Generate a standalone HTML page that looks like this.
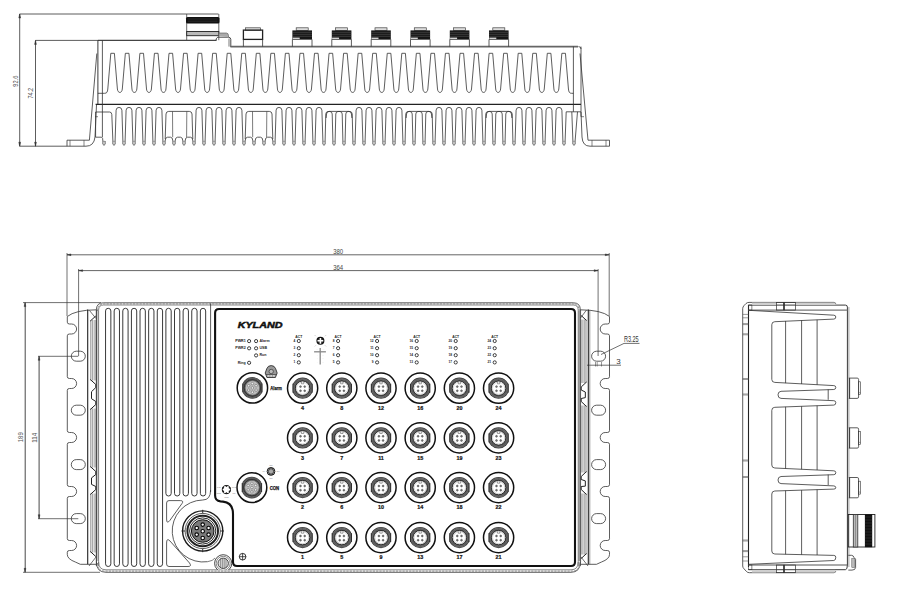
<!DOCTYPE html>
<html><head><meta charset="utf-8"><style>
html,body{margin:0;padding:0;background:#fff;}
svg{display:block;font-family:"Liberation Sans",sans-serif;}
</style></head><body>
<svg width="900" height="592" viewBox="0 0 900 592">
<line x1="19.50" y1="14.00" x2="218.50" y2="14.00" stroke="#333" stroke-width="0.8"/>
<line x1="19.70" y1="14.00" x2="19.70" y2="146.20" stroke="#333" stroke-width="0.8"/>
<line x1="35.50" y1="40.40" x2="98.00" y2="40.40" stroke="#333" stroke-width="0.8"/>
<line x1="35.50" y1="40.40" x2="35.50" y2="146.20" stroke="#333" stroke-width="0.8"/>
<line x1="19.50" y1="146.20" x2="67.00" y2="146.20" stroke="#333" stroke-width="0.8"/>
<path d="M18.8,18 L19.7,14 L20.599999999999998,18 Z" stroke="#333" stroke-width="0.5" fill="#333"/>
<path d="M18.8,142.2 L19.7,146.2 L20.599999999999998,142.2 Z" stroke="#333" stroke-width="0.5" fill="#333"/>
<path d="M34.6,44.4 L35.5,40.4 L36.4,44.4 Z" stroke="#333" stroke-width="0.5" fill="#333"/>
<path d="M34.6,142.2 L35.5,146.2 L36.4,142.2 Z" stroke="#333" stroke-width="0.5" fill="#333"/>
<text x="15.40" y="81.20" font-size="7.6" text-anchor="middle" dominant-baseline="central" font-weight="normal" font-style="normal" fill="#444" transform="rotate(-90 15.40 81.20)" textLength="11" lengthAdjust="spacingAndGlyphs">92.6</text>
<text x="31.00" y="93.20" font-size="7.6" text-anchor="middle" dominant-baseline="central" font-weight="normal" font-style="normal" fill="#444" transform="rotate(-90 31.00 93.20)" textLength="10.7" lengthAdjust="spacingAndGlyphs">74.2</text>
<line x1="98.00" y1="40.40" x2="216.50" y2="40.40" stroke="#444" stroke-width="1.3"/>
<line x1="186.70" y1="14.00" x2="186.70" y2="40.20" stroke="#444" stroke-width="0.8"/>
<line x1="218.80" y1="14.00" x2="218.80" y2="40.20" stroke="#444" stroke-width="0.8"/>
<rect x="186" y="17.1" width="33.5" height="6.5" rx="1.5" fill="#111"/>
<line x1="188.00" y1="19.00" x2="217.50" y2="19.00" stroke="#555" stroke-width="0.35"/>
<line x1="188.00" y1="21.20" x2="217.50" y2="21.20" stroke="#555" stroke-width="0.35"/>
<rect x="186.70" y="31.50" width="32.10" height="4.20" rx="0" stroke="#222" stroke-width="0.9" fill="#bbb"/>
<path d="M216,40.4 Q216,38 217.8,37.2 L228.5,37.2 Q230.8,37.4 230.8,39.5 L230.8,47" stroke="#333" stroke-width="0.9" fill="none"/>
<line x1="229.00" y1="38.60" x2="229.00" y2="46.60" stroke="#555" stroke-width="0.8"/>
<path d="M218.8,36 L218.8,33 L226.5,33 Q228.5,33.3 228.5,35.5 L228.5,37.2" stroke="#555" stroke-width="0.6" fill="#aaa"/>
<line x1="230.40" y1="46.60" x2="578.00" y2="46.60" stroke="#666" stroke-width="1.6"/>
<path d="M578.5,46.6 Q581,46.6 581,49" stroke="#333" stroke-width="0.8" fill="none"/>
<rect x="245.50" y="27.80" width="15.00" height="2.50" rx="0" stroke="#444" stroke-width="0.7" fill="#ddd"/>
<rect x="243.40" y="30.10" width="19.20" height="9.30" rx="0" stroke="#222" stroke-width="1.3" fill="none"/>
<line x1="243.40" y1="39.40" x2="243.40" y2="46.60" stroke="#333" stroke-width="0.8"/>
<line x1="262.60" y1="39.40" x2="262.60" y2="46.60" stroke="#333" stroke-width="0.8"/>
<rect x="296.20" y="27.80" width="12.00" height="2.60" rx="0" stroke="#444" stroke-width="0.7" fill="#ddd"/>
<rect x="292.40" y="30.40" width="19.60" height="9.00" rx="0" stroke="#333" stroke-width="0" fill="#151515"/>
<line x1="292.40" y1="32.30" x2="312.00" y2="32.30" stroke="#777" stroke-width="0.4"/>
<line x1="292.40" y1="34.30" x2="312.00" y2="34.30" stroke="#777" stroke-width="0.4"/>
<line x1="292.40" y1="36.30" x2="312.00" y2="36.30" stroke="#777" stroke-width="0.4"/>
<rect x="292.70" y="37.60" width="7.00" height="1.50" rx="0" stroke="#333" stroke-width="0" fill="#ddd"/>
<line x1="292.40" y1="39.40" x2="292.40" y2="46.60" stroke="#333" stroke-width="0.8"/>
<line x1="312.00" y1="39.40" x2="312.00" y2="46.60" stroke="#333" stroke-width="0.8"/>
<line x1="292.40" y1="39.40" x2="312.00" y2="39.40" stroke="#333" stroke-width="0.6"/>
<rect x="335.60" y="27.80" width="12.00" height="2.60" rx="0" stroke="#444" stroke-width="0.7" fill="#ddd"/>
<rect x="331.80" y="30.40" width="19.60" height="9.00" rx="0" stroke="#333" stroke-width="0" fill="#151515"/>
<line x1="331.80" y1="32.30" x2="351.40" y2="32.30" stroke="#777" stroke-width="0.4"/>
<line x1="331.80" y1="34.30" x2="351.40" y2="34.30" stroke="#777" stroke-width="0.4"/>
<line x1="331.80" y1="36.30" x2="351.40" y2="36.30" stroke="#777" stroke-width="0.4"/>
<rect x="332.10" y="37.60" width="7.00" height="1.50" rx="0" stroke="#333" stroke-width="0" fill="#ddd"/>
<line x1="331.80" y1="39.40" x2="331.80" y2="46.60" stroke="#333" stroke-width="0.8"/>
<line x1="351.40" y1="39.40" x2="351.40" y2="46.60" stroke="#333" stroke-width="0.8"/>
<line x1="331.80" y1="39.40" x2="351.40" y2="39.40" stroke="#333" stroke-width="0.6"/>
<rect x="375.00" y="27.80" width="12.00" height="2.60" rx="0" stroke="#444" stroke-width="0.7" fill="#ddd"/>
<rect x="371.20" y="30.40" width="19.60" height="9.00" rx="0" stroke="#333" stroke-width="0" fill="#151515"/>
<line x1="371.20" y1="32.30" x2="390.80" y2="32.30" stroke="#777" stroke-width="0.4"/>
<line x1="371.20" y1="34.30" x2="390.80" y2="34.30" stroke="#777" stroke-width="0.4"/>
<line x1="371.20" y1="36.30" x2="390.80" y2="36.30" stroke="#777" stroke-width="0.4"/>
<rect x="371.50" y="37.60" width="7.00" height="1.50" rx="0" stroke="#333" stroke-width="0" fill="#ddd"/>
<line x1="371.20" y1="39.40" x2="371.20" y2="46.60" stroke="#333" stroke-width="0.8"/>
<line x1="390.80" y1="39.40" x2="390.80" y2="46.60" stroke="#333" stroke-width="0.8"/>
<line x1="371.20" y1="39.40" x2="390.80" y2="39.40" stroke="#333" stroke-width="0.6"/>
<rect x="414.30" y="27.80" width="12.00" height="2.60" rx="0" stroke="#444" stroke-width="0.7" fill="#ddd"/>
<rect x="410.50" y="30.40" width="19.60" height="9.00" rx="0" stroke="#333" stroke-width="0" fill="#151515"/>
<line x1="410.50" y1="32.30" x2="430.10" y2="32.30" stroke="#777" stroke-width="0.4"/>
<line x1="410.50" y1="34.30" x2="430.10" y2="34.30" stroke="#777" stroke-width="0.4"/>
<line x1="410.50" y1="36.30" x2="430.10" y2="36.30" stroke="#777" stroke-width="0.4"/>
<rect x="410.80" y="37.60" width="7.00" height="1.50" rx="0" stroke="#333" stroke-width="0" fill="#ddd"/>
<line x1="410.50" y1="39.40" x2="410.50" y2="46.60" stroke="#333" stroke-width="0.8"/>
<line x1="430.10" y1="39.40" x2="430.10" y2="46.60" stroke="#333" stroke-width="0.8"/>
<line x1="410.50" y1="39.40" x2="430.10" y2="39.40" stroke="#333" stroke-width="0.6"/>
<rect x="453.60" y="27.80" width="12.00" height="2.60" rx="0" stroke="#444" stroke-width="0.7" fill="#ddd"/>
<rect x="449.80" y="30.40" width="19.60" height="9.00" rx="0" stroke="#333" stroke-width="0" fill="#151515"/>
<line x1="449.80" y1="32.30" x2="469.40" y2="32.30" stroke="#777" stroke-width="0.4"/>
<line x1="449.80" y1="34.30" x2="469.40" y2="34.30" stroke="#777" stroke-width="0.4"/>
<line x1="449.80" y1="36.30" x2="469.40" y2="36.30" stroke="#777" stroke-width="0.4"/>
<rect x="450.10" y="37.60" width="7.00" height="1.50" rx="0" stroke="#333" stroke-width="0" fill="#ddd"/>
<line x1="449.80" y1="39.40" x2="449.80" y2="46.60" stroke="#333" stroke-width="0.8"/>
<line x1="469.40" y1="39.40" x2="469.40" y2="46.60" stroke="#333" stroke-width="0.8"/>
<line x1="449.80" y1="39.40" x2="469.40" y2="39.40" stroke="#333" stroke-width="0.6"/>
<rect x="492.80" y="27.80" width="12.00" height="2.60" rx="0" stroke="#444" stroke-width="0.7" fill="#ddd"/>
<rect x="489.00" y="30.40" width="19.60" height="9.00" rx="0" stroke="#333" stroke-width="0" fill="#151515"/>
<line x1="489.00" y1="32.30" x2="508.60" y2="32.30" stroke="#777" stroke-width="0.4"/>
<line x1="489.00" y1="34.30" x2="508.60" y2="34.30" stroke="#777" stroke-width="0.4"/>
<line x1="489.00" y1="36.30" x2="508.60" y2="36.30" stroke="#777" stroke-width="0.4"/>
<rect x="489.30" y="37.60" width="7.00" height="1.50" rx="0" stroke="#333" stroke-width="0" fill="#ddd"/>
<line x1="489.00" y1="39.40" x2="489.00" y2="46.60" stroke="#333" stroke-width="0.8"/>
<line x1="508.60" y1="39.40" x2="508.60" y2="46.60" stroke="#333" stroke-width="0.8"/>
<line x1="489.00" y1="39.40" x2="508.60" y2="39.40" stroke="#333" stroke-width="0.6"/>
<path d="M97.9,93.3 L104.6,93.3 C107.0,93.3 107.39999999999999,92 107.8,89 L110.8,53.3 L114.39999999999999,53.3 L117.39999999999999,89 C117.8,93.6 121.89999999999999,93.6 122.3,89 L125.35,53.3 L128.95,53.3 L131.95,89 C132.35,93.6 136.45,93.6 136.85,89 L139.89999999999998,53.3 L143.5,53.3 L146.5,89 C146.89999999999998,93.6 151.0,93.6 151.39999999999998,89 L154.45,53.3 L158.05,53.3 L161.05,89 C161.45,93.6 165.55,93.6 165.95,89 L169.0,53.3 L172.60000000000002,53.3 L175.60000000000002,89 C176.0,93.6 180.10000000000002,93.6 180.5,89 L183.54999999999998,53.3 L187.15,53.3 L190.15,89 C190.54999999999998,93.6 194.65,93.6 195.04999999999998,89 L198.1,53.3 L201.70000000000002,53.3 L204.70000000000002,89 C205.1,93.6 209.20000000000002,93.6 209.6,89 L212.64999999999998,53.3 L216.25,53.3 L219.25,89 C219.64999999999998,93.6 223.75,93.6 224.14999999999998,89 L227.2,53.3 L230.8,53.3 L233.8,89 C234.2,93.6 238.3,93.6 238.7,89 L241.75,53.3 L245.35000000000002,53.3 L248.35000000000002,89 C248.75,93.6 252.85000000000002,93.6 253.25,89 L256.3,53.3 L259.90000000000003,53.3 L262.90000000000003,89 C263.3,93.6 267.40000000000003,93.6 267.8,89 L270.84999999999997,53.3 L274.45,53.3 L277.45,89 C277.84999999999997,93.6 281.95,93.6 282.34999999999997,89 L285.40000000000003,53.3 L289.00000000000006,53.3 L292.00000000000006,89 C292.40000000000003,93.6 296.50000000000006,93.6 296.90000000000003,89 L299.95,53.3 L303.55,53.3 L306.55,89 C306.95,93.6 311.05,93.6 311.45,89 L314.5,53.3 L318.1,53.3 L321.1,89 C321.5,93.6 325.6,93.6 326.0,89 L329.05,53.3 L332.65000000000003,53.3 L335.65000000000003,89 C336.05,93.6 340.15000000000003,93.6 340.55,89 L343.59999999999997,53.3 L347.2,53.3 L350.2,89 C350.59999999999997,93.6 354.7,93.6 355.09999999999997,89 L358.15000000000003,53.3 L361.75000000000006,53.3 L364.75000000000006,89 C365.15000000000003,93.6 369.25000000000006,93.6 369.65000000000003,89 L372.7,53.3 L376.3,53.3 L379.3,89 C379.7,93.6 383.8,93.6 384.2,89 L387.24999999999994,53.3 L390.84999999999997,53.3 L393.84999999999997,89 C394.24999999999994,93.6 398.34999999999997,93.6 398.74999999999994,89 L401.8,53.3 L405.40000000000003,53.3 L408.40000000000003,89 C408.8,93.6 412.90000000000003,93.6 413.3,89 L416.34999999999997,53.3 L419.95,53.3 L422.95,89 C423.34999999999997,93.6 427.45,93.6 427.84999999999997,89 L430.90000000000003,53.3 L434.50000000000006,53.3 L437.50000000000006,89 C437.90000000000003,93.6 442.00000000000006,93.6 442.40000000000003,89 L445.45,53.3 L449.05,53.3 L452.05,89 C452.45,93.6 456.55,93.6 456.95,89 L460.00000000000006,53.3 L463.6000000000001,53.3 L466.6000000000001,89 C467.00000000000006,93.6 471.1000000000001,93.6 471.50000000000006,89 L474.55,53.3 L478.15000000000003,53.3 L481.15000000000003,89 C481.55,93.6 485.65000000000003,93.6 486.05,89 L489.09999999999997,53.3 L492.7,53.3 L495.7,89 C496.09999999999997,93.6 500.2,93.6 500.59999999999997,89 L503.65000000000003,53.3 L507.25000000000006,53.3 L510.25000000000006,89 C510.65000000000003,93.6 514.75,93.6 515.1500000000001,89 L518.2,53.3 L521.8,53.3 L524.8,89 C525.2,93.6 529.3,93.6 529.7,89 L532.7500000000001,53.3 L536.35,53.3 L539.35,89 C539.7500000000001,93.6 543.85,93.6 544.2500000000001,89 L547.3000000000001,53.3 L550.9,53.3 L553.9,89 C554.3000000000001,93.6 558.4,93.6 558.8000000000001,89 L561.85,53.3 L565.4499999999999,53.3 L568.4499999999999,89 C568.85,92 569.25,93.3 571.65,93.3 L573.4,93.3" stroke="#333" stroke-width="0.8" fill="none"/>
<line x1="95.60" y1="104.30" x2="581.00" y2="104.30" stroke="#222" stroke-width="1.3"/>
<line x1="97.90" y1="40.40" x2="97.90" y2="104.30" stroke="#222" stroke-width="0.9"/>
<line x1="102.40" y1="40.40" x2="102.40" y2="137.20" stroke="#333" stroke-width="0.8"/>
<line x1="573.40" y1="46.60" x2="573.40" y2="111.80" stroke="#333" stroke-width="0.8"/>
<path d="M96.8,53.5 L89.4,140.2 L67,140.2 L67,146.2 L86,146.2 Q94,146.2 95,137 L96.5,105" stroke="#333" stroke-width="0.8" fill="none"/>
<line x1="70.00" y1="140.20" x2="70.00" y2="146.20" stroke="#333" stroke-width="0.6"/>
<line x1="84.00" y1="140.20" x2="84.00" y2="146.20" stroke="#333" stroke-width="0.6"/>
<path d="M580,53.5 L588,140.2 L609.5,140.2 L609.5,146.2 L590,146.2 Q582.5,146.2 582,137 L581,112" stroke="#333" stroke-width="0.8" fill="none"/>
<line x1="592.00" y1="140.20" x2="592.00" y2="146.20" stroke="#333" stroke-width="0.6"/>
<line x1="606.00" y1="140.20" x2="606.00" y2="146.20" stroke="#333" stroke-width="0.6"/>
<line x1="95.00" y1="116.70" x2="98.00" y2="116.70" stroke="#333" stroke-width="0.6"/>
<line x1="581.00" y1="116.70" x2="584.00" y2="116.70" stroke="#333" stroke-width="0.6"/>
<path d="M112.9,141 L112.9,144.3 Q114,146.4 115.1,144.3 L115.1,141 L116.1,110.2 Q116.3,107.4 119,107.4 Q121.7,107.4 121.9,110.2 L122.9,141 L122.9,144.3 Q124,146.4 125.1,144.3 L125.1,141 L126.1,110.2 Q126.3,107.4 129,107.4 Q131.7,107.4 131.9,110.2 L132.9,141 L132.9,144.3 Q134,146.4 135.1,144.3 L135.1,141 L136.1,110.2 Q136.3,107.4 139,107.4 Q141.7,107.4 141.9,110.2 L142.9,141 L142.9,144.3 Q144,146.4 145.1,144.3 L145.1,141 L146.1,110.2 Q146.3,107.4 149,107.4 Q151.7,107.4 151.9,110.2 L152.9,141 L152.9,144.3 Q154,146.4 155.1,144.3 L155.1,141 L156.1,110.2 Q156.3,107.4 159,107.4 Q161.7,107.4 161.9,110.2 L162.9,141 L162.9,144.3 Q164,146.4 165.1,144.3 L165.1,141 Q165.3,137.2 167.5,137.2 L170.5,137.2 Q172.7,137.2 172.9,141 L172.9,144.3 Q174,146.4 175.1,144.3 L175.1,141 Q175.3,137.2 177.5,137.2 L180.5,137.2 Q182.7,137.2 182.9,141 L182.9,144.3 Q184,146.4 185.1,144.3 L185.1,141 Q185.3,137.2 187.5,137.2 L190.5,137.2 Q192.7,137.2 192.9,141 L192.9,144.3 Q194,146.4 195.1,144.3 L195.1,141 L196.1,110.2 Q196.3,107.4 199,107.4 Q201.7,107.4 201.9,110.2 L202.9,141 L202.9,144.3 Q204,146.4 205.1,144.3 L205.1,141 L206.1,110.2 Q206.3,107.4 209,107.4 Q211.7,107.4 211.9,110.2 L212.9,141 L212.9,144.3 Q214,146.4 215.1,144.3 L215.1,141 L216.1,110.2 Q216.3,107.4 219,107.4 Q221.7,107.4 221.9,110.2 L222.9,141 L222.9,144.3 Q224,146.4 225.1,144.3 L225.1,141 L226.1,110.2 Q226.3,107.4 229,107.4 Q231.7,107.4 231.9,110.2 L232.9,141 L232.9,144.3 Q234,146.4 235.1,144.3 L235.1,141 L236.1,110.2 Q236.3,107.4 239,107.4 Q241.7,107.4 241.9,110.2 L242.9,141 L242.9,144.3 Q244,146.4 245.1,144.3 L245.1,141 Q245.3,137.2 247.5,137.2 L250.5,137.2 Q252.7,137.2 252.9,141 L252.9,144.3 Q254,146.4 255.1,144.3 L255.1,141 Q255.3,137.2 257.5,137.2 L260.5,137.2 Q262.7,137.2 262.9,141 L262.9,144.3 Q264,146.4 265.1,144.3 L265.1,141 Q265.3,137.2 267.5,137.2 L270.5,137.2 Q272.7,137.2 272.9,141 L272.9,144.3 Q274,146.4 275.1,144.3 L275.1,141 L276.1,110.2 Q276.3,107.4 279,107.4 Q281.7,107.4 281.9,110.2 L282.9,141 L282.9,144.3 Q284,146.4 285.1,144.3 L285.1,141 L286.1,110.2 Q286.3,107.4 289,107.4 Q291.7,107.4 291.9,110.2 L292.9,141 L292.9,144.3 Q294,146.4 295.1,144.3 L295.1,141 L296.1,110.2 Q296.3,107.4 299,107.4 Q301.7,107.4 301.9,110.2 L302.9,141 L302.9,144.3 Q304,146.4 305.1,144.3 L305.1,141 L306.1,110.2 Q306.3,107.4 309,107.4 Q311.7,107.4 311.9,110.2 L312.9,141 L312.9,144.3 Q314,146.4 315.1,144.3 L315.1,141 L316.1,110.2 Q316.3,107.4 319,107.4 Q321.7,107.4 321.9,110.2 L322.9,141 L322.9,144.3 Q324,146.4 325.1,144.3 L325.1,141 L325.8,114 Q326,111.6 328,111.5 L330,111.5 Q332,111.6 332.2,114 L332.9,141 L332.9,144.3 Q334,146.4 335.1,144.3 L335.1,141 L335.8,114 Q336,111.6 338,111.5 L340,111.5 Q342,111.6 342.2,114 L342.9,141 L342.9,144.3 Q344,146.4 345.1,144.3 L345.1,141 L345.8,114 Q346,111.6 348,111.5 L350,111.5 Q352,111.6 352.2,114 L352.9,141 L352.9,144.3 Q354,146.4 355.1,144.3 L355.1,141 L356.1,110.2 Q356.3,107.4 359,107.4 Q361.7,107.4 361.9,110.2 L362.9,141 L362.9,144.3 Q364,146.4 365.1,144.3 L365.1,141 L366.1,110.2 Q366.3,107.4 369,107.4 Q371.7,107.4 371.9,110.2 L372.9,141 L372.9,144.3 Q374,146.4 375.1,144.3 L375.1,141 L376.1,110.2 Q376.3,107.4 379,107.4 Q381.7,107.4 381.9,110.2 L382.9,141 L382.9,144.3 Q384,146.4 385.1,144.3 L385.1,141 L386.1,110.2 Q386.3,107.4 389,107.4 Q391.7,107.4 391.9,110.2 L392.9,141 L392.9,144.3 Q394,146.4 395.1,144.3 L395.1,141 L396.1,110.2 Q396.3,107.4 399,107.4 Q401.7,107.4 401.9,110.2 L402.9,141 L402.9,144.3 Q404,146.4 405.1,144.3 L405.1,141 L405.8,114 Q406,111.6 408,111.5 L410,111.5 Q412,111.6 412.2,114 L412.9,141 L412.9,144.3 Q414,146.4 415.1,144.3 L415.1,141 L415.8,114 Q416,111.6 418,111.5 L420,111.5 Q422,111.6 422.2,114 L422.9,141 L422.9,144.3 Q424,146.4 425.1,144.3 L425.1,141 L425.8,114 Q426,111.6 428,111.5 L430,111.5 Q432,111.6 432.2,114 L432.9,141 L432.9,144.3 Q434,146.4 435.1,144.3 L435.1,141 L436.1,110.2 Q436.3,107.4 439,107.4 Q441.7,107.4 441.9,110.2 L442.9,141 L442.9,144.3 Q444,146.4 445.1,144.3 L445.1,141 L446.1,110.2 Q446.3,107.4 449,107.4 Q451.7,107.4 451.9,110.2 L452.9,141 L452.9,144.3 Q454,146.4 455.1,144.3 L455.1,141 L456.1,110.2 Q456.3,107.4 459,107.4 Q461.7,107.4 461.9,110.2 L462.9,141 L462.9,144.3 Q464,146.4 465.1,144.3 L465.1,141 L466.1,110.2 Q466.3,107.4 469,107.4 Q471.7,107.4 471.9,110.2 L472.9,141 L472.9,144.3 Q474,146.4 475.1,144.3 L475.1,141 L476.1,110.2 Q476.3,107.4 479,107.4 Q481.7,107.4 481.9,110.2 L482.9,141 L482.9,144.3 Q484,146.4 485.1,144.3 L485.1,141 L485.8,114 Q486,111.6 488,111.5 L490,111.5 Q492,111.6 492.2,114 L492.9,141 L492.9,144.3 Q494,146.4 495.1,144.3 L495.1,141 L495.8,114 Q496,111.6 498,111.5 L500,111.5 Q502,111.6 502.2,114 L502.9,141 L502.9,144.3 Q504,146.4 505.1,144.3 L505.1,141 L505.8,114 Q506,111.6 508,111.5 L510,111.5 Q512,111.6 512.2,114 L512.9,141 L512.9,144.3 Q514,146.4 515.1,144.3 L515.1,141 L516.1,110.2 Q516.3,107.4 519,107.4 Q521.7,107.4 521.9,110.2 L522.9,141 L522.9,144.3 Q524,146.4 525.1,144.3 L525.1,141 L526.1,110.2 Q526.3,107.4 529,107.4 Q531.7,107.4 531.9,110.2 L532.9,141 L532.9,144.3 Q534,146.4 535.1,144.3 L535.1,141 L536.1,110.2 Q536.3,107.4 539,107.4 Q541.7,107.4 541.9,110.2 L542.9,141 L542.9,144.3 Q544,146.4 545.1,144.3 L545.1,141 L546.1,110.2 Q546.3,107.4 549,107.4 Q551.7,107.4 551.9,110.2 L552.9,141 L552.9,144.3 Q554,146.4 555.1,144.3 L555.1,141 L556.1,110.2 Q556.3,107.4 559,107.4 Q561.7,107.4 561.9,110.2 L562.9,141 L562.9,144.3 Q564,146.4 565.1,144.3 L565.1,141 L566.2,111.8 M571.8,111.8 L572.9,141 L572.9,144.3 Q574,146.4 575.1,144.3 L575.1,141 " stroke="#333" stroke-width="0.8" fill="none"/>
<line x1="102.90" y1="141.30" x2="105.10" y2="141.30" stroke="#666" stroke-width="0.5"/>
<line x1="112.90" y1="141.30" x2="115.10" y2="141.30" stroke="#666" stroke-width="0.5"/>
<line x1="122.90" y1="141.30" x2="125.10" y2="141.30" stroke="#666" stroke-width="0.5"/>
<line x1="132.90" y1="141.30" x2="135.10" y2="141.30" stroke="#666" stroke-width="0.5"/>
<line x1="142.90" y1="141.30" x2="145.10" y2="141.30" stroke="#666" stroke-width="0.5"/>
<line x1="152.90" y1="141.30" x2="155.10" y2="141.30" stroke="#666" stroke-width="0.5"/>
<line x1="162.90" y1="141.30" x2="165.10" y2="141.30" stroke="#666" stroke-width="0.5"/>
<line x1="172.90" y1="141.30" x2="175.10" y2="141.30" stroke="#666" stroke-width="0.5"/>
<line x1="182.90" y1="141.30" x2="185.10" y2="141.30" stroke="#666" stroke-width="0.5"/>
<line x1="192.90" y1="141.30" x2="195.10" y2="141.30" stroke="#666" stroke-width="0.5"/>
<line x1="202.90" y1="141.30" x2="205.10" y2="141.30" stroke="#666" stroke-width="0.5"/>
<line x1="212.90" y1="141.30" x2="215.10" y2="141.30" stroke="#666" stroke-width="0.5"/>
<line x1="222.90" y1="141.30" x2="225.10" y2="141.30" stroke="#666" stroke-width="0.5"/>
<line x1="232.90" y1="141.30" x2="235.10" y2="141.30" stroke="#666" stroke-width="0.5"/>
<line x1="242.90" y1="141.30" x2="245.10" y2="141.30" stroke="#666" stroke-width="0.5"/>
<line x1="252.90" y1="141.30" x2="255.10" y2="141.30" stroke="#666" stroke-width="0.5"/>
<line x1="262.90" y1="141.30" x2="265.10" y2="141.30" stroke="#666" stroke-width="0.5"/>
<line x1="272.90" y1="141.30" x2="275.10" y2="141.30" stroke="#666" stroke-width="0.5"/>
<line x1="282.90" y1="141.30" x2="285.10" y2="141.30" stroke="#666" stroke-width="0.5"/>
<line x1="292.90" y1="141.30" x2="295.10" y2="141.30" stroke="#666" stroke-width="0.5"/>
<line x1="302.90" y1="141.30" x2="305.10" y2="141.30" stroke="#666" stroke-width="0.5"/>
<line x1="312.90" y1="141.30" x2="315.10" y2="141.30" stroke="#666" stroke-width="0.5"/>
<line x1="322.90" y1="141.30" x2="325.10" y2="141.30" stroke="#666" stroke-width="0.5"/>
<line x1="332.90" y1="141.30" x2="335.10" y2="141.30" stroke="#666" stroke-width="0.5"/>
<line x1="342.90" y1="141.30" x2="345.10" y2="141.30" stroke="#666" stroke-width="0.5"/>
<line x1="352.90" y1="141.30" x2="355.10" y2="141.30" stroke="#666" stroke-width="0.5"/>
<line x1="362.90" y1="141.30" x2="365.10" y2="141.30" stroke="#666" stroke-width="0.5"/>
<line x1="372.90" y1="141.30" x2="375.10" y2="141.30" stroke="#666" stroke-width="0.5"/>
<line x1="382.90" y1="141.30" x2="385.10" y2="141.30" stroke="#666" stroke-width="0.5"/>
<line x1="392.90" y1="141.30" x2="395.10" y2="141.30" stroke="#666" stroke-width="0.5"/>
<line x1="402.90" y1="141.30" x2="405.10" y2="141.30" stroke="#666" stroke-width="0.5"/>
<line x1="412.90" y1="141.30" x2="415.10" y2="141.30" stroke="#666" stroke-width="0.5"/>
<line x1="422.90" y1="141.30" x2="425.10" y2="141.30" stroke="#666" stroke-width="0.5"/>
<line x1="432.90" y1="141.30" x2="435.10" y2="141.30" stroke="#666" stroke-width="0.5"/>
<line x1="442.90" y1="141.30" x2="445.10" y2="141.30" stroke="#666" stroke-width="0.5"/>
<line x1="452.90" y1="141.30" x2="455.10" y2="141.30" stroke="#666" stroke-width="0.5"/>
<line x1="462.90" y1="141.30" x2="465.10" y2="141.30" stroke="#666" stroke-width="0.5"/>
<line x1="472.90" y1="141.30" x2="475.10" y2="141.30" stroke="#666" stroke-width="0.5"/>
<line x1="482.90" y1="141.30" x2="485.10" y2="141.30" stroke="#666" stroke-width="0.5"/>
<line x1="492.90" y1="141.30" x2="495.10" y2="141.30" stroke="#666" stroke-width="0.5"/>
<line x1="502.90" y1="141.30" x2="505.10" y2="141.30" stroke="#666" stroke-width="0.5"/>
<line x1="512.90" y1="141.30" x2="515.10" y2="141.30" stroke="#666" stroke-width="0.5"/>
<line x1="522.90" y1="141.30" x2="525.10" y2="141.30" stroke="#666" stroke-width="0.5"/>
<line x1="532.90" y1="141.30" x2="535.10" y2="141.30" stroke="#666" stroke-width="0.5"/>
<line x1="542.90" y1="141.30" x2="545.10" y2="141.30" stroke="#666" stroke-width="0.5"/>
<line x1="552.90" y1="141.30" x2="555.10" y2="141.30" stroke="#666" stroke-width="0.5"/>
<line x1="562.90" y1="141.30" x2="565.10" y2="141.30" stroke="#666" stroke-width="0.5"/>
<line x1="572.90" y1="141.30" x2="575.10" y2="141.30" stroke="#666" stroke-width="0.5"/>
<path d="M102.9,141 L102.9,144.3 Q104,146.4 105.1,144.3 L105.1,141" stroke="#333" stroke-width="0.8" fill="none"/>
<path d="M165.2,139 L166.0,114 Q166.2,111.4 168.7,111.4 L189.3,111.4 Q191.8,111.4 192.0,114 L192.8,139" stroke="#333" stroke-width="0.8" fill="none"/>
<line x1="172.50" y1="111.40" x2="172.70" y2="137.20" stroke="#444" stroke-width="0.7"/>
<line x1="186.80" y1="111.40" x2="186.60" y2="137.20" stroke="#444" stroke-width="0.7"/>
<path d="M245.2,139 L246.0,114 Q246.2,111.4 248.7,111.4 L269.3,111.4 Q271.8,111.4 272.0,114 L272.8,139" stroke="#333" stroke-width="0.8" fill="none"/>
<line x1="252.50" y1="111.40" x2="252.70" y2="137.20" stroke="#444" stroke-width="0.7"/>
<line x1="266.80" y1="111.40" x2="266.60" y2="137.20" stroke="#444" stroke-width="0.7"/>
<path d="M326.09999999999997,118 L326.5,114 Q326.8,111.4 329.2,111.4 L348.8,111.4 Q351.2,111.4 351.5,114 L351.90000000000003,118" stroke="#333" stroke-width="0.8" fill="none"/>
<path d="M406.09999999999997,118 L406.5,114 Q406.8,111.4 409.2,111.4 L428.8,111.4 Q431.2,111.4 431.5,114 L431.90000000000003,118" stroke="#333" stroke-width="0.8" fill="none"/>
<path d="M486.09999999999997,118 L486.5,114 Q486.8,111.4 489.2,111.4 L508.79999999999995,111.4 Q511.19999999999993,111.4 511.49999999999994,114 L511.9,118" stroke="#333" stroke-width="0.8" fill="none"/>
<path d="M95.6,137.2 L95.6,112 L109.6,112 Q111.6,112 111.8,114.5 L112.9,141" stroke="#333" stroke-width="0.8" fill="none"/>
<path d="M95.6,137.2 L101.5,137.2 Q102.9,137.5 102.9,141" stroke="#333" stroke-width="0.8" fill="none"/>
<path d="M566.2,111.8 L581,111.8" stroke="#333" stroke-width="0.8" fill="none"/>
<path d="M575.1,141 L577.5,111.8" stroke="#333" stroke-width="0.8" fill="none"/>
<line x1="581.00" y1="46.60" x2="581.00" y2="116.70" stroke="#333" stroke-width="0.8"/>
<line x1="67.00" y1="254.80" x2="609.20" y2="254.80" stroke="#555" stroke-width="0.9"/>
<line x1="78.60" y1="270.60" x2="598.10" y2="270.60" stroke="#555" stroke-width="0.9"/>
<line x1="67.00" y1="253.00" x2="67.00" y2="316.00" stroke="#333" stroke-width="0.7"/>
<line x1="609.20" y1="253.00" x2="609.20" y2="316.00" stroke="#333" stroke-width="0.7"/>
<line x1="78.60" y1="269.00" x2="78.60" y2="356.00" stroke="#333" stroke-width="0.7"/>
<line x1="598.10" y1="269.00" x2="598.10" y2="356.00" stroke="#333" stroke-width="0.7"/>
<path d="M71,253.9 L67,254.8 L71,255.70000000000002 Z" stroke="#333" stroke-width="0.4" fill="#333"/>
<path d="M605.2,253.9 L609.2,254.8 L605.2,255.70000000000002 Z" stroke="#333" stroke-width="0.4" fill="#333"/>
<path d="M82.6,269.70000000000005 L78.6,270.6 L82.6,271.5 Z" stroke="#333" stroke-width="0.4" fill="#333"/>
<path d="M594.1,269.70000000000005 L598.1,270.6 L594.1,271.5 Z" stroke="#333" stroke-width="0.4" fill="#333"/>
<text x="338.20" y="251.80" font-size="8" text-anchor="middle" dominant-baseline="central" font-weight="normal" font-style="normal" fill="#444" textLength="10" lengthAdjust="spacingAndGlyphs">380</text>
<text x="338.20" y="267.60" font-size="8" text-anchor="middle" dominant-baseline="central" font-weight="normal" font-style="normal" fill="#444" textLength="10" lengthAdjust="spacingAndGlyphs">364</text>
<line x1="23.00" y1="302.60" x2="101.00" y2="302.60" stroke="#333" stroke-width="0.7"/>
<line x1="23.00" y1="572.30" x2="100.00" y2="572.30" stroke="#333" stroke-width="0.7"/>
<line x1="25.20" y1="302.60" x2="25.20" y2="572.30" stroke="#333" stroke-width="0.9"/>
<line x1="38.00" y1="356.30" x2="78.30" y2="356.30" stroke="#333" stroke-width="0.7"/>
<line x1="38.00" y1="518.70" x2="78.30" y2="518.70" stroke="#333" stroke-width="0.7"/>
<line x1="39.10" y1="356.30" x2="39.10" y2="518.70" stroke="#333" stroke-width="0.9"/>
<path d="M24.1,306.6 L25,302.6 L25.9,306.6 Z" stroke="#333" stroke-width="0.4" fill="#333"/>
<path d="M24.1,568.3 L25,572.3 L25.9,568.3 Z" stroke="#333" stroke-width="0.4" fill="#333"/>
<path d="M38.2,360.3 L39.1,356.3 L40.0,360.3 Z" stroke="#333" stroke-width="0.4" fill="#333"/>
<path d="M38.2,514.7 L39.1,518.7 L40.0,514.7 Z" stroke="#333" stroke-width="0.4" fill="#333"/>
<text x="20.60" y="437.20" font-size="7.4" text-anchor="middle" dominant-baseline="central" font-weight="normal" font-style="normal" fill="#555" transform="rotate(-90 20.60 437.20)" textLength="10" lengthAdjust="spacingAndGlyphs">189</text>
<text x="34.80" y="437.80" font-size="7.4" text-anchor="middle" dominant-baseline="central" font-weight="normal" font-style="normal" fill="#555" transform="rotate(-90 34.80 437.80)" textLength="10" lengthAdjust="spacingAndGlyphs">114</text>
<text x="631.30" y="339.80" font-size="8.2" text-anchor="middle" dominant-baseline="central" font-weight="normal" font-style="normal" fill="#333" textLength="14.8" lengthAdjust="spacingAndGlyphs">R3.25</text>
<line x1="624.00" y1="343.40" x2="639.50" y2="343.40" stroke="#333" stroke-width="0.7"/>
<line x1="624.00" y1="343.40" x2="601.00" y2="354.50" stroke="#333" stroke-width="0.7"/>
<text x="618.40" y="361.30" font-size="8" text-anchor="middle" dominant-baseline="central" font-weight="normal" font-style="normal" fill="#333">3</text>
<line x1="587.00" y1="365.20" x2="621.00" y2="365.20" stroke="#333" stroke-width="0.7"/>
<line x1="595.50" y1="362.00" x2="595.50" y2="366.50" stroke="#333" stroke-width="0.5"/>
<line x1="597.20" y1="362.00" x2="597.20" y2="366.50" stroke="#333" stroke-width="0.5"/>
<line x1="601.50" y1="362.00" x2="601.50" y2="366.50" stroke="#333" stroke-width="0.5"/>
<path d="M96.4,309.8 Q75.3,310 67.3,316.5 L67.3,322.2 Q67.3,324 69.5,324 L71.6,324 A5,5 0 0 1 71.6,334 L69.5,334 Q67.3,334 67.3,335.8 L67.3,376.7 Q67.3,378.5 69.5,378.5 L71.6,378.5 A5,5 0 0 1 71.6,388.5 L69.5,388.5 Q67.3,388.5 67.3,390.3 L67.3,430.7 Q67.3,432.5 69.5,432.5 L71.6,432.5 A5,5 0 0 1 71.6,442.5 L69.5,442.5 Q67.3,442.5 67.3,444.3 L67.3,484.7 Q67.3,486.5 69.5,486.5 L71.6,486.5 A5,5 0 0 1 71.6,496.5 L69.5,496.5 Q67.3,496.5 67.3,498.3 L67.3,538.7 Q67.3,540.5 69.5,540.5 L71.6,540.5 A5,5 0 0 1 71.6,550.5 L69.5,550.5 Q67.3,550.5 67.3,552.3 L67.3,554.5 Q67.3,559 75.3,562 L80.3,564.3 L96.4,564.3" stroke="#333" stroke-width="0.8" fill="none"/>
<path d="M580.3,309.8 Q601.5,310 609.5,316.5 L609.5,322.2 Q609.5,324 607.3,324 L605.2,324 A5,5 0 0 0 605.2,334 L607.3,334 Q609.5,334 609.5,335.8 L609.5,376.7 Q609.5,378.5 607.3,378.5 L605.2,378.5 A5,5 0 0 0 605.2,388.5 L607.3,388.5 Q609.5,388.5 609.5,390.3 L609.5,430.7 Q609.5,432.5 607.3,432.5 L605.2,432.5 A5,5 0 0 0 605.2,442.5 L607.3,442.5 Q609.5,442.5 609.5,444.3 L609.5,484.7 Q609.5,486.5 607.3,486.5 L605.2,486.5 A5,5 0 0 0 605.2,496.5 L607.3,496.5 Q609.5,496.5 609.5,498.3 L609.5,538.7 Q609.5,540.5 607.3,540.5 L605.2,540.5 A5,5 0 0 0 605.2,550.5 L607.3,550.5 Q609.5,550.5 609.5,552.3 L609.5,554.5 Q609.5,559 601.5,562 L596.5,564.3 L580.3,564.3" stroke="#333" stroke-width="0.8" fill="none"/>
<rect x="71.30" y="351.20" width="14.00" height="10.00" rx="5" stroke="#333" stroke-width="0.8" fill="none"/>
<rect x="591.60" y="351.20" width="14.00" height="10.00" rx="5" stroke="#333" stroke-width="0.8" fill="none"/>
<rect x="71.30" y="405.20" width="14.00" height="10.00" rx="5" stroke="#333" stroke-width="0.8" fill="none"/>
<rect x="591.60" y="405.20" width="14.00" height="10.00" rx="5" stroke="#333" stroke-width="0.8" fill="none"/>
<rect x="71.30" y="459.60" width="14.00" height="10.00" rx="5" stroke="#333" stroke-width="0.8" fill="none"/>
<rect x="591.60" y="459.60" width="14.00" height="10.00" rx="5" stroke="#333" stroke-width="0.8" fill="none"/>
<rect x="71.30" y="513.60" width="14.00" height="10.00" rx="5" stroke="#333" stroke-width="0.8" fill="none"/>
<rect x="591.60" y="513.60" width="14.00" height="10.00" rx="5" stroke="#333" stroke-width="0.8" fill="none"/>
<line x1="87.70" y1="309.50" x2="87.70" y2="564.30" stroke="#222" stroke-width="1.1"/>
<line x1="96.40" y1="310.00" x2="96.40" y2="562.00" stroke="#444" stroke-width="0.7"/>
<line x1="97.90" y1="311.00" x2="97.90" y2="561.00" stroke="#666" stroke-width="0.6"/>
<line x1="90.85" y1="320.00" x2="90.85" y2="380.50" stroke="#555" stroke-width="0.7"/>
<line x1="92.77" y1="320.00" x2="92.77" y2="380.50" stroke="#555" stroke-width="0.7"/>
<line x1="94.97" y1="320.00" x2="94.97" y2="380.50" stroke="#555" stroke-width="0.7"/>
<path d="M90.3,321 L95.8,316" stroke="#222" stroke-width="1.0" fill="none"/>
<path d="M90.3,379.5 L95.8,384.5" stroke="#222" stroke-width="1.0" fill="none"/>
<line x1="90.85" y1="408.50" x2="90.85" y2="467.50" stroke="#555" stroke-width="0.7"/>
<line x1="92.77" y1="408.50" x2="92.77" y2="467.50" stroke="#555" stroke-width="0.7"/>
<line x1="94.97" y1="408.50" x2="94.97" y2="467.50" stroke="#555" stroke-width="0.7"/>
<path d="M90.3,409.5 L95.8,404.5" stroke="#222" stroke-width="1.0" fill="none"/>
<path d="M90.3,466.5 L95.8,471.5" stroke="#222" stroke-width="1.0" fill="none"/>
<line x1="90.85" y1="493.50" x2="90.85" y2="552.50" stroke="#555" stroke-width="0.7"/>
<line x1="92.77" y1="493.50" x2="92.77" y2="552.50" stroke="#555" stroke-width="0.7"/>
<line x1="94.97" y1="493.50" x2="94.97" y2="552.50" stroke="#555" stroke-width="0.7"/>
<path d="M90.3,494.5 L95.8,489.5" stroke="#222" stroke-width="1.0" fill="none"/>
<path d="M90.3,551.5 L95.8,556.5" stroke="#222" stroke-width="1.0" fill="none"/>
<path d="M95.8,384.5 L95.8,387.5 L91.50999999999999,391.7 L91.50999999999999,398.7 L95.8,401.5 L95.8,404.5" stroke="#222" stroke-width="1.0" fill="none"/>
<path d="M95.8,471.5 L95.8,474.5 L91.50999999999999,477.9 L91.50999999999999,484.4 L95.8,486.5 L95.8,489.5" stroke="#222" stroke-width="1.0" fill="none"/>
<path d="M89.5,310.5 L96,318.5" stroke="#333" stroke-width="0.7" fill="none"/>
<path d="M89,566 L96,557" stroke="#333" stroke-width="0.7" fill="none"/>
<line x1="588.30" y1="309.50" x2="588.30" y2="564.30" stroke="#222" stroke-width="1.1"/>
<line x1="579.10" y1="311.00" x2="579.10" y2="561.00" stroke="#444" stroke-width="0.7"/>
<line x1="580.60" y1="310.00" x2="580.60" y2="562.00" stroke="#666" stroke-width="0.6"/>
<line x1="585.97" y1="319.50" x2="585.97" y2="383.00" stroke="#555" stroke-width="0.7"/>
<line x1="584.12" y1="319.50" x2="584.12" y2="383.00" stroke="#555" stroke-width="0.7"/>
<line x1="582.00" y1="319.50" x2="582.00" y2="383.00" stroke="#555" stroke-width="0.7"/>
<path d="M586.5,320.5 L581.2,315.5" stroke="#222" stroke-width="1.0" fill="none"/>
<path d="M586.5,382 L581.2,387" stroke="#222" stroke-width="1.0" fill="none"/>
<line x1="585.97" y1="405.50" x2="585.97" y2="472.50" stroke="#555" stroke-width="0.7"/>
<line x1="584.12" y1="405.50" x2="584.12" y2="472.50" stroke="#555" stroke-width="0.7"/>
<line x1="582.00" y1="405.50" x2="582.00" y2="472.50" stroke="#555" stroke-width="0.7"/>
<path d="M586.5,406.5 L581.2,401.5" stroke="#222" stroke-width="1.0" fill="none"/>
<path d="M586.5,471.5 L581.2,476.5" stroke="#222" stroke-width="1.0" fill="none"/>
<line x1="585.97" y1="493.50" x2="585.97" y2="554.50" stroke="#555" stroke-width="0.7"/>
<line x1="584.12" y1="493.50" x2="584.12" y2="554.50" stroke="#555" stroke-width="0.7"/>
<line x1="582.00" y1="493.50" x2="582.00" y2="554.50" stroke="#555" stroke-width="0.7"/>
<path d="M586.5,494.5 L581.2,489.5" stroke="#222" stroke-width="1.0" fill="none"/>
<path d="M586.5,553.5 L581.2,558.5" stroke="#222" stroke-width="1.0" fill="none"/>
<path d="M581.2,387 L581.2,390 L585.3340000000001,392.0 L585.3340000000001,397.625 L581.2,398.5 L581.2,401.5" stroke="#222" stroke-width="1.0" fill="none"/>
<path d="M581.2,476.5 L581.2,479.5 L585.3340000000001,480.9 L585.3340000000001,486.15 L581.2,486.5 L581.2,489.5" stroke="#222" stroke-width="1.0" fill="none"/>
<path d="M580.5,318 L586.5,310" stroke="#333" stroke-width="0.7" fill="none"/>
<line x1="589.80" y1="310.00" x2="589.80" y2="564.30" stroke="#555" stroke-width="0.6"/>
<path d="M588,566 L581,557" stroke="#333" stroke-width="0.7" fill="none"/>
<path d="M96.4,566 L96.4,309.8 Q96.4,302.8 103.4,302.8 L573.3,302.8 Q580.3,302.8 580.3,309.8 L580.3,566" stroke="#333" stroke-width="0.8" fill="none"/>
<path d="M98.6,566 L98.6,310 Q98.6,305 103.6,305 L573.2,305 Q578.2,305 578.2,310 L578.2,566" stroke="#555" stroke-width="0.7" fill="none"/>
<path d="M97.5,311 Q97.5,303.9 104.5,303.9 L572.3,303.9 Q579.2,303.9 579.2,311" stroke="#888" stroke-width="1" fill="none" stroke-dasharray="2.2,1.1"/>
<path d="M96.4,562 Q96.4,572.3 106,572.3 L571,572.3 Q580.3,572.3 580.3,562" stroke="#333" stroke-width="0.8" fill="none"/>
<path d="M98.6,562 Q98.6,569.8 106,569.8 L571,569.8 Q578.2,569.8 578.2,562" stroke="#555" stroke-width="0.7" fill="none"/>
<path d="M97.5,563 Q97.5,571.1 104.5,571.1 L572.3,571.1 Q579.2,571.1 579.2,563" stroke="#888" stroke-width="1" fill="none" stroke-dasharray="2.2,1.1"/>
<rect x="105.55" y="308.30" width="5.30" height="258.20" rx="2.65" stroke="#3a3a3a" stroke-width="1.0" fill="none"/>
<rect x="114.17" y="308.30" width="5.30" height="258.20" rx="2.65" stroke="#3a3a3a" stroke-width="1.0" fill="none"/>
<rect x="122.79" y="308.30" width="5.30" height="258.20" rx="2.65" stroke="#3a3a3a" stroke-width="1.0" fill="none"/>
<rect x="131.41" y="308.30" width="5.30" height="258.20" rx="2.65" stroke="#3a3a3a" stroke-width="1.0" fill="none"/>
<rect x="140.03" y="308.30" width="5.30" height="258.20" rx="2.65" stroke="#3a3a3a" stroke-width="1.0" fill="none"/>
<rect x="148.65" y="308.30" width="5.30" height="258.20" rx="2.65" stroke="#3a3a3a" stroke-width="1.0" fill="none"/>
<rect x="157.27" y="308.30" width="5.30" height="258.20" rx="2.65" stroke="#3a3a3a" stroke-width="1.0" fill="none"/>
<rect x="165.89" y="308.30" width="5.30" height="187.70" rx="2.65" stroke="#3a3a3a" stroke-width="1.0" fill="none"/>
<rect x="174.51" y="308.30" width="5.30" height="187.70" rx="2.65" stroke="#3a3a3a" stroke-width="1.0" fill="none"/>
<rect x="183.13" y="308.30" width="5.30" height="187.70" rx="2.65" stroke="#3a3a3a" stroke-width="1.0" fill="none"/>
<rect x="191.75" y="308.30" width="5.30" height="187.70" rx="2.65" stroke="#3a3a3a" stroke-width="1.0" fill="none"/>
<rect x="200.37" y="308.30" width="5.30" height="187.70" rx="2.65" stroke="#3a3a3a" stroke-width="1.0" fill="none"/>
<line x1="210.60" y1="303.50" x2="210.60" y2="492.00" stroke="#333" stroke-width="0.8"/>
<path d="M169,500.6 L180.5,500.6 Q184,500.8 182,503.5 L169.8,520.5 Q166.6,524.5 166.6,519 L166.6,503 Q166.6,500.6 169,500.6 Z" stroke="#333" stroke-width="0.8" fill="none"/>
<path d="M166.6,543 Q166.6,537.5 170,541 L189.5,563 Q192,566.5 188,566.5 L169,566.5 Q166.6,566.5 166.6,564 Z" stroke="#333" stroke-width="0.8" fill="none"/>
<path d="M210.6,490 Q210.6,500 202.7,500 A31,31 0 1 0 207.5,561.7" stroke="#333" stroke-width="0.8" fill="none"/>
<path d="M207.5,561.7 Q213,561 215,558" stroke="#444" stroke-width="0.7" fill="none"/>
<circle cx="202.70" cy="531.00" r="20.10" stroke="#1a1a1a" stroke-width="1.4" fill="none"/>
<circle cx="202.70" cy="531.00" r="17.60" stroke="#333" stroke-width="0.8" fill="none"/>
<circle cx="202.70" cy="531.00" r="15.30" stroke="#222" stroke-width="2.0" fill="none"/>
<circle cx="202.70" cy="531.00" r="13.10" stroke="#111" stroke-width="0.9" fill="#fff"/>
<circle cx="202.70" cy="531.00" r="11.30" stroke="#111" stroke-width="1.0" fill="#7a7a7a"/>
<line x1="220.30" y1="531.00" x2="223.90" y2="531.00" stroke="#222" stroke-width="0.9"/>
<line x1="202.70" y1="548.60" x2="202.70" y2="552.20" stroke="#222" stroke-width="0.9"/>
<line x1="185.10" y1="531.00" x2="181.50" y2="531.00" stroke="#222" stroke-width="0.9"/>
<line x1="202.70" y1="513.40" x2="202.70" y2="509.80" stroke="#222" stroke-width="0.9"/>
<circle cx="202.70" cy="531.30" r="1.75" stroke="#000" stroke-width="1.1" fill="#fff"/>
<circle cx="202.70" cy="524.60" r="1.75" stroke="#000" stroke-width="1.1" fill="#fff"/>
<circle cx="196.70" cy="528.00" r="1.75" stroke="#000" stroke-width="1.1" fill="#fff"/>
<circle cx="208.60" cy="528.00" r="1.75" stroke="#000" stroke-width="1.1" fill="#fff"/>
<circle cx="196.70" cy="534.60" r="1.75" stroke="#000" stroke-width="1.1" fill="#fff"/>
<circle cx="208.60" cy="534.60" r="1.75" stroke="#000" stroke-width="1.1" fill="#fff"/>
<circle cx="202.70" cy="538.00" r="1.75" stroke="#000" stroke-width="1.1" fill="#fff"/>
<path d="M215.1,313 Q215.1,309 219.1,309 L571,309 Q575,309 575,313 L575,562 Q575,566 571,566 L237,566 Q233,566 233,562 L233,514 Q233,502.5 223,501.6 L220.5,501.4 Q215.1,500.8 215.1,495.5 Z" stroke="#111" stroke-width="2.1" fill="none"/>
<defs><clipPath id="bclip"><rect x="200" y="540" width="50" height="30"/></clipPath></defs>
<g clip-path="url(#bclip)">
<circle cx="223.20" cy="563.30" r="8.60" stroke="#333" stroke-width="0.9" fill="#fff"/>
<circle cx="223.20" cy="563.30" r="7.00" stroke="#555" stroke-width="0.7" fill="none"/>
<circle cx="223.20" cy="563.30" r="5.20" stroke="#333" stroke-width="0.9" fill="#ddd"/>
<line x1="220.60" y1="558.50" x2="220.60" y2="568.00" stroke="#444" stroke-width="0.5"/>
<line x1="222.40" y1="558.50" x2="222.40" y2="568.00" stroke="#444" stroke-width="0.5"/>
<line x1="224.20" y1="558.50" x2="224.20" y2="568.00" stroke="#444" stroke-width="0.5"/>
<line x1="226.00" y1="558.50" x2="226.00" y2="568.00" stroke="#444" stroke-width="0.5"/>
</g>
<circle cx="242.60" cy="556.70" r="3.30" stroke="#222" stroke-width="0.9" fill="none"/>
<line x1="239.10" y1="556.70" x2="246.10" y2="556.70" stroke="#222" stroke-width="0.8"/>
<line x1="242.60" y1="553.20" x2="242.60" y2="560.20" stroke="#222" stroke-width="0.8"/>
<text x="260.10" y="324.00" font-size="9.9" text-anchor="middle" dominant-baseline="central" font-weight="bold" font-style="italic" fill="#111" stroke="#111" stroke-width="0.55" textLength="44.8" lengthAdjust="spacingAndGlyphs">KYLAND</text>
<text x="245.70" y="341.10" font-size="3.6" text-anchor="end" dominant-baseline="central" font-weight="bold" font-style="normal" fill="#111">PWR1</text>
<text x="245.70" y="348.30" font-size="3.6" text-anchor="end" dominant-baseline="central" font-weight="bold" font-style="normal" fill="#222">PWR2</text>
<text x="245.70" y="362.80" font-size="3.6" text-anchor="end" dominant-baseline="central" font-weight="bold" font-style="normal" fill="#222">Ring</text>
<circle cx="249.10" cy="341.10" r="1.60" stroke="#111" stroke-width="0.8" fill="none"/>
<circle cx="249.10" cy="348.30" r="1.60" stroke="#111" stroke-width="0.8" fill="none"/>
<circle cx="249.10" cy="362.80" r="1.60" stroke="#111" stroke-width="0.8" fill="none"/>
<circle cx="256.10" cy="341.10" r="1.60" stroke="#111" stroke-width="0.8" fill="none"/>
<text x="259.40" y="341.10" font-size="3.6" text-anchor="start" dominant-baseline="central" font-weight="bold" font-style="normal" fill="#222">Alarm</text>
<circle cx="256.10" cy="348.30" r="1.60" stroke="#111" stroke-width="0.8" fill="none"/>
<text x="259.40" y="348.30" font-size="3.6" text-anchor="start" dominant-baseline="central" font-weight="bold" font-style="normal" fill="#222">USB</text>
<circle cx="256.10" cy="355.40" r="1.60" stroke="#111" stroke-width="0.8" fill="none"/>
<text x="259.40" y="355.40" font-size="3.6" text-anchor="start" dominant-baseline="central" font-weight="bold" font-style="normal" fill="#222">Run</text>
<text x="298.80" y="336.60" font-size="3.4" text-anchor="middle" dominant-baseline="central" font-weight="bold" font-style="normal" fill="#222">ACT</text>
<circle cx="298.80" cy="341.00" r="1.60" stroke="#111" stroke-width="0.8" fill="none"/>
<text x="295.20" y="341.00" font-size="3.2" text-anchor="end" dominant-baseline="central" font-weight="bold" font-style="normal" fill="#222">4</text>
<circle cx="298.80" cy="348.20" r="1.60" stroke="#111" stroke-width="0.8" fill="none"/>
<text x="295.20" y="348.20" font-size="3.2" text-anchor="end" dominant-baseline="central" font-weight="bold" font-style="normal" fill="#222">3</text>
<circle cx="298.80" cy="355.20" r="1.60" stroke="#111" stroke-width="0.8" fill="none"/>
<text x="295.20" y="355.20" font-size="3.2" text-anchor="end" dominant-baseline="central" font-weight="bold" font-style="normal" fill="#222">2</text>
<circle cx="298.80" cy="362.40" r="1.60" stroke="#111" stroke-width="0.8" fill="none"/>
<text x="295.20" y="362.40" font-size="3.2" text-anchor="end" dominant-baseline="central" font-weight="bold" font-style="normal" fill="#222">1</text>
<text x="338.10" y="336.60" font-size="3.4" text-anchor="middle" dominant-baseline="central" font-weight="bold" font-style="normal" fill="#222">ACT</text>
<circle cx="338.10" cy="341.00" r="1.60" stroke="#111" stroke-width="0.8" fill="none"/>
<text x="334.50" y="341.00" font-size="3.2" text-anchor="end" dominant-baseline="central" font-weight="bold" font-style="normal" fill="#222">8</text>
<circle cx="338.10" cy="348.20" r="1.60" stroke="#111" stroke-width="0.8" fill="none"/>
<text x="334.50" y="348.20" font-size="3.2" text-anchor="end" dominant-baseline="central" font-weight="bold" font-style="normal" fill="#222">7</text>
<circle cx="338.10" cy="355.20" r="1.60" stroke="#111" stroke-width="0.8" fill="none"/>
<text x="334.50" y="355.20" font-size="3.2" text-anchor="end" dominant-baseline="central" font-weight="bold" font-style="normal" fill="#222">6</text>
<circle cx="338.10" cy="362.40" r="1.60" stroke="#111" stroke-width="0.8" fill="none"/>
<text x="334.50" y="362.40" font-size="3.2" text-anchor="end" dominant-baseline="central" font-weight="bold" font-style="normal" fill="#222">5</text>
<text x="377.10" y="336.60" font-size="3.4" text-anchor="middle" dominant-baseline="central" font-weight="bold" font-style="normal" fill="#222">ACT</text>
<circle cx="377.10" cy="341.00" r="1.60" stroke="#111" stroke-width="0.8" fill="none"/>
<text x="373.50" y="341.00" font-size="3.2" text-anchor="end" dominant-baseline="central" font-weight="bold" font-style="normal" fill="#222">12</text>
<circle cx="377.10" cy="348.20" r="1.60" stroke="#111" stroke-width="0.8" fill="none"/>
<text x="373.50" y="348.20" font-size="3.2" text-anchor="end" dominant-baseline="central" font-weight="bold" font-style="normal" fill="#222">11</text>
<circle cx="377.10" cy="355.20" r="1.60" stroke="#111" stroke-width="0.8" fill="none"/>
<text x="373.50" y="355.20" font-size="3.2" text-anchor="end" dominant-baseline="central" font-weight="bold" font-style="normal" fill="#222">10</text>
<circle cx="377.10" cy="362.40" r="1.60" stroke="#111" stroke-width="0.8" fill="none"/>
<text x="373.50" y="362.40" font-size="3.2" text-anchor="end" dominant-baseline="central" font-weight="bold" font-style="normal" fill="#222">9</text>
<text x="416.70" y="336.60" font-size="3.4" text-anchor="middle" dominant-baseline="central" font-weight="bold" font-style="normal" fill="#222">ACT</text>
<circle cx="416.70" cy="341.00" r="1.60" stroke="#111" stroke-width="0.8" fill="none"/>
<text x="413.10" y="341.00" font-size="3.2" text-anchor="end" dominant-baseline="central" font-weight="bold" font-style="normal" fill="#222">16</text>
<circle cx="416.70" cy="348.20" r="1.60" stroke="#111" stroke-width="0.8" fill="none"/>
<text x="413.10" y="348.20" font-size="3.2" text-anchor="end" dominant-baseline="central" font-weight="bold" font-style="normal" fill="#222">15</text>
<circle cx="416.70" cy="355.20" r="1.60" stroke="#111" stroke-width="0.8" fill="none"/>
<text x="413.10" y="355.20" font-size="3.2" text-anchor="end" dominant-baseline="central" font-weight="bold" font-style="normal" fill="#222">14</text>
<circle cx="416.70" cy="362.40" r="1.60" stroke="#111" stroke-width="0.8" fill="none"/>
<text x="413.10" y="362.40" font-size="3.2" text-anchor="end" dominant-baseline="central" font-weight="bold" font-style="normal" fill="#222">13</text>
<text x="455.70" y="336.60" font-size="3.4" text-anchor="middle" dominant-baseline="central" font-weight="bold" font-style="normal" fill="#222">ACT</text>
<circle cx="455.70" cy="341.00" r="1.60" stroke="#111" stroke-width="0.8" fill="none"/>
<text x="452.10" y="341.00" font-size="3.2" text-anchor="end" dominant-baseline="central" font-weight="bold" font-style="normal" fill="#222">20</text>
<circle cx="455.70" cy="348.20" r="1.60" stroke="#111" stroke-width="0.8" fill="none"/>
<text x="452.10" y="348.20" font-size="3.2" text-anchor="end" dominant-baseline="central" font-weight="bold" font-style="normal" fill="#222">19</text>
<circle cx="455.70" cy="355.20" r="1.60" stroke="#111" stroke-width="0.8" fill="none"/>
<text x="452.10" y="355.20" font-size="3.2" text-anchor="end" dominant-baseline="central" font-weight="bold" font-style="normal" fill="#222">18</text>
<circle cx="455.70" cy="362.40" r="1.60" stroke="#111" stroke-width="0.8" fill="none"/>
<text x="452.10" y="362.40" font-size="3.2" text-anchor="end" dominant-baseline="central" font-weight="bold" font-style="normal" fill="#222">17</text>
<text x="494.70" y="336.60" font-size="3.4" text-anchor="middle" dominant-baseline="central" font-weight="bold" font-style="normal" fill="#222">ACT</text>
<circle cx="494.70" cy="341.00" r="1.60" stroke="#111" stroke-width="0.8" fill="none"/>
<text x="491.10" y="341.00" font-size="3.2" text-anchor="end" dominant-baseline="central" font-weight="bold" font-style="normal" fill="#222">24</text>
<circle cx="494.70" cy="348.20" r="1.60" stroke="#111" stroke-width="0.8" fill="none"/>
<text x="491.10" y="348.20" font-size="3.2" text-anchor="end" dominant-baseline="central" font-weight="bold" font-style="normal" fill="#222">23</text>
<circle cx="494.70" cy="355.20" r="1.60" stroke="#111" stroke-width="0.8" fill="none"/>
<text x="491.10" y="355.20" font-size="3.2" text-anchor="end" dominant-baseline="central" font-weight="bold" font-style="normal" fill="#222">22</text>
<circle cx="494.70" cy="362.40" r="1.60" stroke="#111" stroke-width="0.8" fill="none"/>
<text x="491.10" y="362.40" font-size="3.2" text-anchor="end" dominant-baseline="central" font-weight="bold" font-style="normal" fill="#222">21</text>
<circle cx="320.40" cy="340.80" r="3.30" stroke="#111" stroke-width="1.4" fill="#3a3a3a"/>
<path d="M320.4,337.9 L320.4,343.7 M317.5,340.8 L323.3,340.8" stroke="#fff" stroke-width="1.5"/>
<line x1="315.80" y1="336.20" x2="314.80" y2="335.20" stroke="#777" stroke-width="0.4"/>
<line x1="325.00" y1="336.20" x2="326.00" y2="335.20" stroke="#777" stroke-width="0.4"/>
<line x1="315.80" y1="345.40" x2="314.80" y2="346.40" stroke="#777" stroke-width="0.4"/>
<line x1="325.00" y1="345.40" x2="326.00" y2="346.40" stroke="#777" stroke-width="0.4"/>
<line x1="320.20" y1="348.00" x2="320.20" y2="364.50" stroke="#888" stroke-width="1.3"/>
<line x1="314.10" y1="351.80" x2="325.90" y2="351.80" stroke="#888" stroke-width="1.3"/>
<text x="317.50" y="355.00" font-size="2.4" text-anchor="middle" dominant-baseline="central" font-weight="normal" font-style="normal" fill="#999">-</text>
<text x="323.00" y="355.00" font-size="2.4" text-anchor="middle" dominant-baseline="central" font-weight="normal" font-style="normal" fill="#999">--</text>
<text x="317.50" y="358.50" font-size="2.4" text-anchor="middle" dominant-baseline="central" font-weight="normal" font-style="normal" fill="#999">-</text>
<text x="323.00" y="358.50" font-size="2.4" text-anchor="middle" dominant-baseline="central" font-weight="normal" font-style="normal" fill="#999">--</text>
<text x="317.50" y="362.00" font-size="2.4" text-anchor="middle" dominant-baseline="central" font-weight="normal" font-style="normal" fill="#999">-</text>
<text x="323.00" y="362.00" font-size="2.4" text-anchor="middle" dominant-baseline="central" font-weight="normal" font-style="normal" fill="#999">--</text>
<text x="317.00" y="349.30" font-size="2.2" text-anchor="middle" dominant-baseline="central" font-weight="normal" font-style="normal" fill="#999">--</text>
<text x="323.50" y="349.30" font-size="2.2" text-anchor="middle" dominant-baseline="central" font-weight="normal" font-style="normal" fill="#999">---</text>
<path d="M265.2,373 L266.8,368.6 A4.7,4.7 0 0 1 275.6,368.6 L277.2,373 L275.4,377.5 L266.9,377.5 Z" stroke="#222" stroke-width="0.8" fill="#999"/>
<circle cx="271.20" cy="371.50" r="2.20" stroke="#333" stroke-width="0.7" fill="#bbb"/>
<line x1="266.00" y1="374.50" x2="276.50" y2="374.50" stroke="#333" stroke-width="0.6"/>
<rect x="267.60" y="375.20" width="1.80" height="1.40" rx="0" stroke="#fff" stroke-width="0" fill="#ddd"/>
<rect x="270.30" y="375.20" width="1.80" height="1.40" rx="0" stroke="#fff" stroke-width="0" fill="#ddd"/>
<rect x="273.00" y="375.20" width="1.80" height="1.40" rx="0" stroke="#fff" stroke-width="0" fill="#ddd"/>
<defs><clipPath id="pclip"><rect x="-9.7" y="-12" width="19.4" height="24"/></clipPath></defs>
<circle cx="302.60" cy="388.20" r="15.10" stroke="#111" stroke-width="1.5" fill="none"/>
<g transform="translate(302.60,388.20)"><g clip-path="url(#pclip)"><circle r="10.6" fill="#333"/><circle r="9.6" fill="none" stroke="#aaa" stroke-width="0.45"/><circle r="8.8" fill="none" stroke="#999" stroke-width="0.45"/><circle r="8.0" fill="none" stroke="#999" stroke-width="0.45"/></g><line x1="-9.7" y1="-4.5" x2="-9.7" y2="4.5" stroke="#111" stroke-width="0.8"/><line x1="9.7" y1="-4.5" x2="9.7" y2="4.5" stroke="#111" stroke-width="0.8"/><circle r="7.2" fill="#fff" stroke="#222" stroke-width="0.9"/><circle r="6.1" fill="none" stroke="#aaa" stroke-width="0.5"/><circle cx="-2.1" cy="-1.6" r="0.95" fill="#777" stroke="#333" stroke-width="0.4"/><circle cx="2.1" cy="-1.6" r="0.95" fill="#777" stroke="#333" stroke-width="0.4"/><circle cx="-2.1" cy="2.6" r="0.95" fill="#777" stroke="#333" stroke-width="0.4"/><circle cx="2.1" cy="2.6" r="0.95" fill="#777" stroke="#333" stroke-width="0.4"/><path d="M-1.2,-6.1 L-1.2,-4.4 L1.2,-4.4 L1.2,-6.1" fill="none" stroke="#444" stroke-width="0.5"/></g>
<text x="302.60" y="407.80" font-size="5.4" text-anchor="middle" dominant-baseline="central" font-weight="bold" font-style="normal" fill="#111" stroke="#111" stroke-width="0.2">4</text>
<circle cx="341.80" cy="388.20" r="15.10" stroke="#111" stroke-width="1.5" fill="none"/>
<g transform="translate(341.80,388.20)"><g clip-path="url(#pclip)"><circle r="10.6" fill="#333"/><circle r="9.6" fill="none" stroke="#aaa" stroke-width="0.45"/><circle r="8.8" fill="none" stroke="#999" stroke-width="0.45"/><circle r="8.0" fill="none" stroke="#999" stroke-width="0.45"/></g><line x1="-9.7" y1="-4.5" x2="-9.7" y2="4.5" stroke="#111" stroke-width="0.8"/><line x1="9.7" y1="-4.5" x2="9.7" y2="4.5" stroke="#111" stroke-width="0.8"/><circle r="7.2" fill="#fff" stroke="#222" stroke-width="0.9"/><circle r="6.1" fill="none" stroke="#aaa" stroke-width="0.5"/><circle cx="-2.1" cy="-1.6" r="0.95" fill="#777" stroke="#333" stroke-width="0.4"/><circle cx="2.1" cy="-1.6" r="0.95" fill="#777" stroke="#333" stroke-width="0.4"/><circle cx="-2.1" cy="2.6" r="0.95" fill="#777" stroke="#333" stroke-width="0.4"/><circle cx="2.1" cy="2.6" r="0.95" fill="#777" stroke="#333" stroke-width="0.4"/><path d="M-1.2,-6.1 L-1.2,-4.4 L1.2,-4.4 L1.2,-6.1" fill="none" stroke="#444" stroke-width="0.5"/></g>
<text x="341.80" y="407.80" font-size="5.4" text-anchor="middle" dominant-baseline="central" font-weight="bold" font-style="normal" fill="#111" stroke="#111" stroke-width="0.2">8</text>
<circle cx="381.00" cy="388.20" r="15.10" stroke="#111" stroke-width="1.5" fill="none"/>
<g transform="translate(381.00,388.20)"><g clip-path="url(#pclip)"><circle r="10.6" fill="#333"/><circle r="9.6" fill="none" stroke="#aaa" stroke-width="0.45"/><circle r="8.8" fill="none" stroke="#999" stroke-width="0.45"/><circle r="8.0" fill="none" stroke="#999" stroke-width="0.45"/></g><line x1="-9.7" y1="-4.5" x2="-9.7" y2="4.5" stroke="#111" stroke-width="0.8"/><line x1="9.7" y1="-4.5" x2="9.7" y2="4.5" stroke="#111" stroke-width="0.8"/><circle r="7.2" fill="#fff" stroke="#222" stroke-width="0.9"/><circle r="6.1" fill="none" stroke="#aaa" stroke-width="0.5"/><circle cx="-2.1" cy="-1.6" r="0.95" fill="#777" stroke="#333" stroke-width="0.4"/><circle cx="2.1" cy="-1.6" r="0.95" fill="#777" stroke="#333" stroke-width="0.4"/><circle cx="-2.1" cy="2.6" r="0.95" fill="#777" stroke="#333" stroke-width="0.4"/><circle cx="2.1" cy="2.6" r="0.95" fill="#777" stroke="#333" stroke-width="0.4"/><path d="M-1.2,-6.1 L-1.2,-4.4 L1.2,-4.4 L1.2,-6.1" fill="none" stroke="#444" stroke-width="0.5"/></g>
<text x="381.00" y="407.80" font-size="5.4" text-anchor="middle" dominant-baseline="central" font-weight="bold" font-style="normal" fill="#111" stroke="#111" stroke-width="0.2">12</text>
<circle cx="420.20" cy="388.20" r="15.10" stroke="#111" stroke-width="1.5" fill="none"/>
<g transform="translate(420.20,388.20)"><g clip-path="url(#pclip)"><circle r="10.6" fill="#333"/><circle r="9.6" fill="none" stroke="#aaa" stroke-width="0.45"/><circle r="8.8" fill="none" stroke="#999" stroke-width="0.45"/><circle r="8.0" fill="none" stroke="#999" stroke-width="0.45"/></g><line x1="-9.7" y1="-4.5" x2="-9.7" y2="4.5" stroke="#111" stroke-width="0.8"/><line x1="9.7" y1="-4.5" x2="9.7" y2="4.5" stroke="#111" stroke-width="0.8"/><circle r="7.2" fill="#fff" stroke="#222" stroke-width="0.9"/><circle r="6.1" fill="none" stroke="#aaa" stroke-width="0.5"/><circle cx="-2.1" cy="-1.6" r="0.95" fill="#777" stroke="#333" stroke-width="0.4"/><circle cx="2.1" cy="-1.6" r="0.95" fill="#777" stroke="#333" stroke-width="0.4"/><circle cx="-2.1" cy="2.6" r="0.95" fill="#777" stroke="#333" stroke-width="0.4"/><circle cx="2.1" cy="2.6" r="0.95" fill="#777" stroke="#333" stroke-width="0.4"/><path d="M-1.2,-6.1 L-1.2,-4.4 L1.2,-4.4 L1.2,-6.1" fill="none" stroke="#444" stroke-width="0.5"/></g>
<text x="420.20" y="407.80" font-size="5.4" text-anchor="middle" dominant-baseline="central" font-weight="bold" font-style="normal" fill="#111" stroke="#111" stroke-width="0.2">16</text>
<circle cx="459.40" cy="388.20" r="15.10" stroke="#111" stroke-width="1.5" fill="none"/>
<g transform="translate(459.40,388.20)"><g clip-path="url(#pclip)"><circle r="10.6" fill="#333"/><circle r="9.6" fill="none" stroke="#aaa" stroke-width="0.45"/><circle r="8.8" fill="none" stroke="#999" stroke-width="0.45"/><circle r="8.0" fill="none" stroke="#999" stroke-width="0.45"/></g><line x1="-9.7" y1="-4.5" x2="-9.7" y2="4.5" stroke="#111" stroke-width="0.8"/><line x1="9.7" y1="-4.5" x2="9.7" y2="4.5" stroke="#111" stroke-width="0.8"/><circle r="7.2" fill="#fff" stroke="#222" stroke-width="0.9"/><circle r="6.1" fill="none" stroke="#aaa" stroke-width="0.5"/><circle cx="-2.1" cy="-1.6" r="0.95" fill="#777" stroke="#333" stroke-width="0.4"/><circle cx="2.1" cy="-1.6" r="0.95" fill="#777" stroke="#333" stroke-width="0.4"/><circle cx="-2.1" cy="2.6" r="0.95" fill="#777" stroke="#333" stroke-width="0.4"/><circle cx="2.1" cy="2.6" r="0.95" fill="#777" stroke="#333" stroke-width="0.4"/><path d="M-1.2,-6.1 L-1.2,-4.4 L1.2,-4.4 L1.2,-6.1" fill="none" stroke="#444" stroke-width="0.5"/></g>
<text x="459.40" y="407.80" font-size="5.4" text-anchor="middle" dominant-baseline="central" font-weight="bold" font-style="normal" fill="#111" stroke="#111" stroke-width="0.2">20</text>
<circle cx="498.60" cy="388.20" r="15.10" stroke="#111" stroke-width="1.5" fill="none"/>
<g transform="translate(498.60,388.20)"><g clip-path="url(#pclip)"><circle r="10.6" fill="#333"/><circle r="9.6" fill="none" stroke="#aaa" stroke-width="0.45"/><circle r="8.8" fill="none" stroke="#999" stroke-width="0.45"/><circle r="8.0" fill="none" stroke="#999" stroke-width="0.45"/></g><line x1="-9.7" y1="-4.5" x2="-9.7" y2="4.5" stroke="#111" stroke-width="0.8"/><line x1="9.7" y1="-4.5" x2="9.7" y2="4.5" stroke="#111" stroke-width="0.8"/><circle r="7.2" fill="#fff" stroke="#222" stroke-width="0.9"/><circle r="6.1" fill="none" stroke="#aaa" stroke-width="0.5"/><circle cx="-2.1" cy="-1.6" r="0.95" fill="#777" stroke="#333" stroke-width="0.4"/><circle cx="2.1" cy="-1.6" r="0.95" fill="#777" stroke="#333" stroke-width="0.4"/><circle cx="-2.1" cy="2.6" r="0.95" fill="#777" stroke="#333" stroke-width="0.4"/><circle cx="2.1" cy="2.6" r="0.95" fill="#777" stroke="#333" stroke-width="0.4"/><path d="M-1.2,-6.1 L-1.2,-4.4 L1.2,-4.4 L1.2,-6.1" fill="none" stroke="#444" stroke-width="0.5"/></g>
<text x="498.60" y="407.80" font-size="5.4" text-anchor="middle" dominant-baseline="central" font-weight="bold" font-style="normal" fill="#111" stroke="#111" stroke-width="0.2">24</text>
<circle cx="302.60" cy="437.90" r="15.10" stroke="#111" stroke-width="1.5" fill="none"/>
<g transform="translate(302.60,437.90)"><g clip-path="url(#pclip)"><circle r="10.6" fill="#333"/><circle r="9.6" fill="none" stroke="#aaa" stroke-width="0.45"/><circle r="8.8" fill="none" stroke="#999" stroke-width="0.45"/><circle r="8.0" fill="none" stroke="#999" stroke-width="0.45"/></g><line x1="-9.7" y1="-4.5" x2="-9.7" y2="4.5" stroke="#111" stroke-width="0.8"/><line x1="9.7" y1="-4.5" x2="9.7" y2="4.5" stroke="#111" stroke-width="0.8"/><circle r="7.2" fill="#fff" stroke="#222" stroke-width="0.9"/><circle r="6.1" fill="none" stroke="#aaa" stroke-width="0.5"/><circle cx="-2.1" cy="-1.6" r="0.95" fill="#777" stroke="#333" stroke-width="0.4"/><circle cx="2.1" cy="-1.6" r="0.95" fill="#777" stroke="#333" stroke-width="0.4"/><circle cx="-2.1" cy="2.6" r="0.95" fill="#777" stroke="#333" stroke-width="0.4"/><circle cx="2.1" cy="2.6" r="0.95" fill="#777" stroke="#333" stroke-width="0.4"/><path d="M-1.2,-6.1 L-1.2,-4.4 L1.2,-4.4 L1.2,-6.1" fill="none" stroke="#444" stroke-width="0.5"/></g>
<text x="302.60" y="457.50" font-size="5.4" text-anchor="middle" dominant-baseline="central" font-weight="bold" font-style="normal" fill="#111" stroke="#111" stroke-width="0.2">3</text>
<circle cx="341.80" cy="437.90" r="15.10" stroke="#111" stroke-width="1.5" fill="none"/>
<g transform="translate(341.80,437.90)"><g clip-path="url(#pclip)"><circle r="10.6" fill="#333"/><circle r="9.6" fill="none" stroke="#aaa" stroke-width="0.45"/><circle r="8.8" fill="none" stroke="#999" stroke-width="0.45"/><circle r="8.0" fill="none" stroke="#999" stroke-width="0.45"/></g><line x1="-9.7" y1="-4.5" x2="-9.7" y2="4.5" stroke="#111" stroke-width="0.8"/><line x1="9.7" y1="-4.5" x2="9.7" y2="4.5" stroke="#111" stroke-width="0.8"/><circle r="7.2" fill="#fff" stroke="#222" stroke-width="0.9"/><circle r="6.1" fill="none" stroke="#aaa" stroke-width="0.5"/><circle cx="-2.1" cy="-1.6" r="0.95" fill="#777" stroke="#333" stroke-width="0.4"/><circle cx="2.1" cy="-1.6" r="0.95" fill="#777" stroke="#333" stroke-width="0.4"/><circle cx="-2.1" cy="2.6" r="0.95" fill="#777" stroke="#333" stroke-width="0.4"/><circle cx="2.1" cy="2.6" r="0.95" fill="#777" stroke="#333" stroke-width="0.4"/><path d="M-1.2,-6.1 L-1.2,-4.4 L1.2,-4.4 L1.2,-6.1" fill="none" stroke="#444" stroke-width="0.5"/></g>
<text x="341.80" y="457.50" font-size="5.4" text-anchor="middle" dominant-baseline="central" font-weight="bold" font-style="normal" fill="#111" stroke="#111" stroke-width="0.2">7</text>
<circle cx="381.00" cy="437.90" r="15.10" stroke="#111" stroke-width="1.5" fill="none"/>
<g transform="translate(381.00,437.90)"><g clip-path="url(#pclip)"><circle r="10.6" fill="#333"/><circle r="9.6" fill="none" stroke="#aaa" stroke-width="0.45"/><circle r="8.8" fill="none" stroke="#999" stroke-width="0.45"/><circle r="8.0" fill="none" stroke="#999" stroke-width="0.45"/></g><line x1="-9.7" y1="-4.5" x2="-9.7" y2="4.5" stroke="#111" stroke-width="0.8"/><line x1="9.7" y1="-4.5" x2="9.7" y2="4.5" stroke="#111" stroke-width="0.8"/><circle r="7.2" fill="#fff" stroke="#222" stroke-width="0.9"/><circle r="6.1" fill="none" stroke="#aaa" stroke-width="0.5"/><circle cx="-2.1" cy="-1.6" r="0.95" fill="#777" stroke="#333" stroke-width="0.4"/><circle cx="2.1" cy="-1.6" r="0.95" fill="#777" stroke="#333" stroke-width="0.4"/><circle cx="-2.1" cy="2.6" r="0.95" fill="#777" stroke="#333" stroke-width="0.4"/><circle cx="2.1" cy="2.6" r="0.95" fill="#777" stroke="#333" stroke-width="0.4"/><path d="M-1.2,-6.1 L-1.2,-4.4 L1.2,-4.4 L1.2,-6.1" fill="none" stroke="#444" stroke-width="0.5"/></g>
<text x="381.00" y="457.50" font-size="5.4" text-anchor="middle" dominant-baseline="central" font-weight="bold" font-style="normal" fill="#111" stroke="#111" stroke-width="0.2">11</text>
<circle cx="420.20" cy="437.90" r="15.10" stroke="#111" stroke-width="1.5" fill="none"/>
<g transform="translate(420.20,437.90)"><g clip-path="url(#pclip)"><circle r="10.6" fill="#333"/><circle r="9.6" fill="none" stroke="#aaa" stroke-width="0.45"/><circle r="8.8" fill="none" stroke="#999" stroke-width="0.45"/><circle r="8.0" fill="none" stroke="#999" stroke-width="0.45"/></g><line x1="-9.7" y1="-4.5" x2="-9.7" y2="4.5" stroke="#111" stroke-width="0.8"/><line x1="9.7" y1="-4.5" x2="9.7" y2="4.5" stroke="#111" stroke-width="0.8"/><circle r="7.2" fill="#fff" stroke="#222" stroke-width="0.9"/><circle r="6.1" fill="none" stroke="#aaa" stroke-width="0.5"/><circle cx="-2.1" cy="-1.6" r="0.95" fill="#777" stroke="#333" stroke-width="0.4"/><circle cx="2.1" cy="-1.6" r="0.95" fill="#777" stroke="#333" stroke-width="0.4"/><circle cx="-2.1" cy="2.6" r="0.95" fill="#777" stroke="#333" stroke-width="0.4"/><circle cx="2.1" cy="2.6" r="0.95" fill="#777" stroke="#333" stroke-width="0.4"/><path d="M-1.2,-6.1 L-1.2,-4.4 L1.2,-4.4 L1.2,-6.1" fill="none" stroke="#444" stroke-width="0.5"/></g>
<text x="420.20" y="457.50" font-size="5.4" text-anchor="middle" dominant-baseline="central" font-weight="bold" font-style="normal" fill="#111" stroke="#111" stroke-width="0.2">15</text>
<circle cx="459.40" cy="437.90" r="15.10" stroke="#111" stroke-width="1.5" fill="none"/>
<g transform="translate(459.40,437.90)"><g clip-path="url(#pclip)"><circle r="10.6" fill="#333"/><circle r="9.6" fill="none" stroke="#aaa" stroke-width="0.45"/><circle r="8.8" fill="none" stroke="#999" stroke-width="0.45"/><circle r="8.0" fill="none" stroke="#999" stroke-width="0.45"/></g><line x1="-9.7" y1="-4.5" x2="-9.7" y2="4.5" stroke="#111" stroke-width="0.8"/><line x1="9.7" y1="-4.5" x2="9.7" y2="4.5" stroke="#111" stroke-width="0.8"/><circle r="7.2" fill="#fff" stroke="#222" stroke-width="0.9"/><circle r="6.1" fill="none" stroke="#aaa" stroke-width="0.5"/><circle cx="-2.1" cy="-1.6" r="0.95" fill="#777" stroke="#333" stroke-width="0.4"/><circle cx="2.1" cy="-1.6" r="0.95" fill="#777" stroke="#333" stroke-width="0.4"/><circle cx="-2.1" cy="2.6" r="0.95" fill="#777" stroke="#333" stroke-width="0.4"/><circle cx="2.1" cy="2.6" r="0.95" fill="#777" stroke="#333" stroke-width="0.4"/><path d="M-1.2,-6.1 L-1.2,-4.4 L1.2,-4.4 L1.2,-6.1" fill="none" stroke="#444" stroke-width="0.5"/></g>
<text x="459.40" y="457.50" font-size="5.4" text-anchor="middle" dominant-baseline="central" font-weight="bold" font-style="normal" fill="#111" stroke="#111" stroke-width="0.2">19</text>
<circle cx="498.60" cy="437.90" r="15.10" stroke="#111" stroke-width="1.5" fill="none"/>
<g transform="translate(498.60,437.90)"><g clip-path="url(#pclip)"><circle r="10.6" fill="#333"/><circle r="9.6" fill="none" stroke="#aaa" stroke-width="0.45"/><circle r="8.8" fill="none" stroke="#999" stroke-width="0.45"/><circle r="8.0" fill="none" stroke="#999" stroke-width="0.45"/></g><line x1="-9.7" y1="-4.5" x2="-9.7" y2="4.5" stroke="#111" stroke-width="0.8"/><line x1="9.7" y1="-4.5" x2="9.7" y2="4.5" stroke="#111" stroke-width="0.8"/><circle r="7.2" fill="#fff" stroke="#222" stroke-width="0.9"/><circle r="6.1" fill="none" stroke="#aaa" stroke-width="0.5"/><circle cx="-2.1" cy="-1.6" r="0.95" fill="#777" stroke="#333" stroke-width="0.4"/><circle cx="2.1" cy="-1.6" r="0.95" fill="#777" stroke="#333" stroke-width="0.4"/><circle cx="-2.1" cy="2.6" r="0.95" fill="#777" stroke="#333" stroke-width="0.4"/><circle cx="2.1" cy="2.6" r="0.95" fill="#777" stroke="#333" stroke-width="0.4"/><path d="M-1.2,-6.1 L-1.2,-4.4 L1.2,-4.4 L1.2,-6.1" fill="none" stroke="#444" stroke-width="0.5"/></g>
<text x="498.60" y="457.50" font-size="5.4" text-anchor="middle" dominant-baseline="central" font-weight="bold" font-style="normal" fill="#111" stroke="#111" stroke-width="0.2">23</text>
<circle cx="302.60" cy="487.60" r="15.10" stroke="#111" stroke-width="1.5" fill="none"/>
<g transform="translate(302.60,487.60)"><g clip-path="url(#pclip)"><circle r="10.6" fill="#333"/><circle r="9.6" fill="none" stroke="#aaa" stroke-width="0.45"/><circle r="8.8" fill="none" stroke="#999" stroke-width="0.45"/><circle r="8.0" fill="none" stroke="#999" stroke-width="0.45"/></g><line x1="-9.7" y1="-4.5" x2="-9.7" y2="4.5" stroke="#111" stroke-width="0.8"/><line x1="9.7" y1="-4.5" x2="9.7" y2="4.5" stroke="#111" stroke-width="0.8"/><circle r="7.2" fill="#fff" stroke="#222" stroke-width="0.9"/><circle r="6.1" fill="none" stroke="#aaa" stroke-width="0.5"/><circle cx="-2.1" cy="-1.6" r="0.95" fill="#777" stroke="#333" stroke-width="0.4"/><circle cx="2.1" cy="-1.6" r="0.95" fill="#777" stroke="#333" stroke-width="0.4"/><circle cx="-2.1" cy="2.6" r="0.95" fill="#777" stroke="#333" stroke-width="0.4"/><circle cx="2.1" cy="2.6" r="0.95" fill="#777" stroke="#333" stroke-width="0.4"/><path d="M-1.2,-6.1 L-1.2,-4.4 L1.2,-4.4 L1.2,-6.1" fill="none" stroke="#444" stroke-width="0.5"/></g>
<text x="302.60" y="507.20" font-size="5.4" text-anchor="middle" dominant-baseline="central" font-weight="bold" font-style="normal" fill="#111" stroke="#111" stroke-width="0.2">2</text>
<circle cx="341.80" cy="487.60" r="15.10" stroke="#111" stroke-width="1.5" fill="none"/>
<g transform="translate(341.80,487.60)"><g clip-path="url(#pclip)"><circle r="10.6" fill="#333"/><circle r="9.6" fill="none" stroke="#aaa" stroke-width="0.45"/><circle r="8.8" fill="none" stroke="#999" stroke-width="0.45"/><circle r="8.0" fill="none" stroke="#999" stroke-width="0.45"/></g><line x1="-9.7" y1="-4.5" x2="-9.7" y2="4.5" stroke="#111" stroke-width="0.8"/><line x1="9.7" y1="-4.5" x2="9.7" y2="4.5" stroke="#111" stroke-width="0.8"/><circle r="7.2" fill="#fff" stroke="#222" stroke-width="0.9"/><circle r="6.1" fill="none" stroke="#aaa" stroke-width="0.5"/><circle cx="-2.1" cy="-1.6" r="0.95" fill="#777" stroke="#333" stroke-width="0.4"/><circle cx="2.1" cy="-1.6" r="0.95" fill="#777" stroke="#333" stroke-width="0.4"/><circle cx="-2.1" cy="2.6" r="0.95" fill="#777" stroke="#333" stroke-width="0.4"/><circle cx="2.1" cy="2.6" r="0.95" fill="#777" stroke="#333" stroke-width="0.4"/><path d="M-1.2,-6.1 L-1.2,-4.4 L1.2,-4.4 L1.2,-6.1" fill="none" stroke="#444" stroke-width="0.5"/></g>
<text x="341.80" y="507.20" font-size="5.4" text-anchor="middle" dominant-baseline="central" font-weight="bold" font-style="normal" fill="#111" stroke="#111" stroke-width="0.2">6</text>
<circle cx="381.00" cy="487.60" r="15.10" stroke="#111" stroke-width="1.5" fill="none"/>
<g transform="translate(381.00,487.60)"><g clip-path="url(#pclip)"><circle r="10.6" fill="#333"/><circle r="9.6" fill="none" stroke="#aaa" stroke-width="0.45"/><circle r="8.8" fill="none" stroke="#999" stroke-width="0.45"/><circle r="8.0" fill="none" stroke="#999" stroke-width="0.45"/></g><line x1="-9.7" y1="-4.5" x2="-9.7" y2="4.5" stroke="#111" stroke-width="0.8"/><line x1="9.7" y1="-4.5" x2="9.7" y2="4.5" stroke="#111" stroke-width="0.8"/><circle r="7.2" fill="#fff" stroke="#222" stroke-width="0.9"/><circle r="6.1" fill="none" stroke="#aaa" stroke-width="0.5"/><circle cx="-2.1" cy="-1.6" r="0.95" fill="#777" stroke="#333" stroke-width="0.4"/><circle cx="2.1" cy="-1.6" r="0.95" fill="#777" stroke="#333" stroke-width="0.4"/><circle cx="-2.1" cy="2.6" r="0.95" fill="#777" stroke="#333" stroke-width="0.4"/><circle cx="2.1" cy="2.6" r="0.95" fill="#777" stroke="#333" stroke-width="0.4"/><path d="M-1.2,-6.1 L-1.2,-4.4 L1.2,-4.4 L1.2,-6.1" fill="none" stroke="#444" stroke-width="0.5"/></g>
<text x="381.00" y="507.20" font-size="5.4" text-anchor="middle" dominant-baseline="central" font-weight="bold" font-style="normal" fill="#111" stroke="#111" stroke-width="0.2">10</text>
<circle cx="420.20" cy="487.60" r="15.10" stroke="#111" stroke-width="1.5" fill="none"/>
<g transform="translate(420.20,487.60)"><g clip-path="url(#pclip)"><circle r="10.6" fill="#333"/><circle r="9.6" fill="none" stroke="#aaa" stroke-width="0.45"/><circle r="8.8" fill="none" stroke="#999" stroke-width="0.45"/><circle r="8.0" fill="none" stroke="#999" stroke-width="0.45"/></g><line x1="-9.7" y1="-4.5" x2="-9.7" y2="4.5" stroke="#111" stroke-width="0.8"/><line x1="9.7" y1="-4.5" x2="9.7" y2="4.5" stroke="#111" stroke-width="0.8"/><circle r="7.2" fill="#fff" stroke="#222" stroke-width="0.9"/><circle r="6.1" fill="none" stroke="#aaa" stroke-width="0.5"/><circle cx="-2.1" cy="-1.6" r="0.95" fill="#777" stroke="#333" stroke-width="0.4"/><circle cx="2.1" cy="-1.6" r="0.95" fill="#777" stroke="#333" stroke-width="0.4"/><circle cx="-2.1" cy="2.6" r="0.95" fill="#777" stroke="#333" stroke-width="0.4"/><circle cx="2.1" cy="2.6" r="0.95" fill="#777" stroke="#333" stroke-width="0.4"/><path d="M-1.2,-6.1 L-1.2,-4.4 L1.2,-4.4 L1.2,-6.1" fill="none" stroke="#444" stroke-width="0.5"/></g>
<text x="420.20" y="507.20" font-size="5.4" text-anchor="middle" dominant-baseline="central" font-weight="bold" font-style="normal" fill="#111" stroke="#111" stroke-width="0.2">14</text>
<circle cx="459.40" cy="487.60" r="15.10" stroke="#111" stroke-width="1.5" fill="none"/>
<g transform="translate(459.40,487.60)"><g clip-path="url(#pclip)"><circle r="10.6" fill="#333"/><circle r="9.6" fill="none" stroke="#aaa" stroke-width="0.45"/><circle r="8.8" fill="none" stroke="#999" stroke-width="0.45"/><circle r="8.0" fill="none" stroke="#999" stroke-width="0.45"/></g><line x1="-9.7" y1="-4.5" x2="-9.7" y2="4.5" stroke="#111" stroke-width="0.8"/><line x1="9.7" y1="-4.5" x2="9.7" y2="4.5" stroke="#111" stroke-width="0.8"/><circle r="7.2" fill="#fff" stroke="#222" stroke-width="0.9"/><circle r="6.1" fill="none" stroke="#aaa" stroke-width="0.5"/><circle cx="-2.1" cy="-1.6" r="0.95" fill="#777" stroke="#333" stroke-width="0.4"/><circle cx="2.1" cy="-1.6" r="0.95" fill="#777" stroke="#333" stroke-width="0.4"/><circle cx="-2.1" cy="2.6" r="0.95" fill="#777" stroke="#333" stroke-width="0.4"/><circle cx="2.1" cy="2.6" r="0.95" fill="#777" stroke="#333" stroke-width="0.4"/><path d="M-1.2,-6.1 L-1.2,-4.4 L1.2,-4.4 L1.2,-6.1" fill="none" stroke="#444" stroke-width="0.5"/></g>
<text x="459.40" y="507.20" font-size="5.4" text-anchor="middle" dominant-baseline="central" font-weight="bold" font-style="normal" fill="#111" stroke="#111" stroke-width="0.2">18</text>
<circle cx="498.60" cy="487.60" r="15.10" stroke="#111" stroke-width="1.5" fill="none"/>
<g transform="translate(498.60,487.60)"><g clip-path="url(#pclip)"><circle r="10.6" fill="#333"/><circle r="9.6" fill="none" stroke="#aaa" stroke-width="0.45"/><circle r="8.8" fill="none" stroke="#999" stroke-width="0.45"/><circle r="8.0" fill="none" stroke="#999" stroke-width="0.45"/></g><line x1="-9.7" y1="-4.5" x2="-9.7" y2="4.5" stroke="#111" stroke-width="0.8"/><line x1="9.7" y1="-4.5" x2="9.7" y2="4.5" stroke="#111" stroke-width="0.8"/><circle r="7.2" fill="#fff" stroke="#222" stroke-width="0.9"/><circle r="6.1" fill="none" stroke="#aaa" stroke-width="0.5"/><circle cx="-2.1" cy="-1.6" r="0.95" fill="#777" stroke="#333" stroke-width="0.4"/><circle cx="2.1" cy="-1.6" r="0.95" fill="#777" stroke="#333" stroke-width="0.4"/><circle cx="-2.1" cy="2.6" r="0.95" fill="#777" stroke="#333" stroke-width="0.4"/><circle cx="2.1" cy="2.6" r="0.95" fill="#777" stroke="#333" stroke-width="0.4"/><path d="M-1.2,-6.1 L-1.2,-4.4 L1.2,-4.4 L1.2,-6.1" fill="none" stroke="#444" stroke-width="0.5"/></g>
<text x="498.60" y="507.20" font-size="5.4" text-anchor="middle" dominant-baseline="central" font-weight="bold" font-style="normal" fill="#111" stroke="#111" stroke-width="0.2">22</text>
<circle cx="302.60" cy="537.60" r="15.10" stroke="#111" stroke-width="1.5" fill="none"/>
<g transform="translate(302.60,537.60)"><g clip-path="url(#pclip)"><circle r="10.6" fill="#333"/><circle r="9.6" fill="none" stroke="#aaa" stroke-width="0.45"/><circle r="8.8" fill="none" stroke="#999" stroke-width="0.45"/><circle r="8.0" fill="none" stroke="#999" stroke-width="0.45"/></g><line x1="-9.7" y1="-4.5" x2="-9.7" y2="4.5" stroke="#111" stroke-width="0.8"/><line x1="9.7" y1="-4.5" x2="9.7" y2="4.5" stroke="#111" stroke-width="0.8"/><circle r="7.2" fill="#fff" stroke="#222" stroke-width="0.9"/><circle r="6.1" fill="none" stroke="#aaa" stroke-width="0.5"/><circle cx="-2.1" cy="-1.6" r="0.95" fill="#777" stroke="#333" stroke-width="0.4"/><circle cx="2.1" cy="-1.6" r="0.95" fill="#777" stroke="#333" stroke-width="0.4"/><circle cx="-2.1" cy="2.6" r="0.95" fill="#777" stroke="#333" stroke-width="0.4"/><circle cx="2.1" cy="2.6" r="0.95" fill="#777" stroke="#333" stroke-width="0.4"/><path d="M-1.2,-6.1 L-1.2,-4.4 L1.2,-4.4 L1.2,-6.1" fill="none" stroke="#444" stroke-width="0.5"/></g>
<text x="302.60" y="557.20" font-size="5.4" text-anchor="middle" dominant-baseline="central" font-weight="bold" font-style="normal" fill="#111" stroke="#111" stroke-width="0.2">1</text>
<circle cx="341.80" cy="537.60" r="15.10" stroke="#111" stroke-width="1.5" fill="none"/>
<g transform="translate(341.80,537.60)"><g clip-path="url(#pclip)"><circle r="10.6" fill="#333"/><circle r="9.6" fill="none" stroke="#aaa" stroke-width="0.45"/><circle r="8.8" fill="none" stroke="#999" stroke-width="0.45"/><circle r="8.0" fill="none" stroke="#999" stroke-width="0.45"/></g><line x1="-9.7" y1="-4.5" x2="-9.7" y2="4.5" stroke="#111" stroke-width="0.8"/><line x1="9.7" y1="-4.5" x2="9.7" y2="4.5" stroke="#111" stroke-width="0.8"/><circle r="7.2" fill="#fff" stroke="#222" stroke-width="0.9"/><circle r="6.1" fill="none" stroke="#aaa" stroke-width="0.5"/><circle cx="-2.1" cy="-1.6" r="0.95" fill="#777" stroke="#333" stroke-width="0.4"/><circle cx="2.1" cy="-1.6" r="0.95" fill="#777" stroke="#333" stroke-width="0.4"/><circle cx="-2.1" cy="2.6" r="0.95" fill="#777" stroke="#333" stroke-width="0.4"/><circle cx="2.1" cy="2.6" r="0.95" fill="#777" stroke="#333" stroke-width="0.4"/><path d="M-1.2,-6.1 L-1.2,-4.4 L1.2,-4.4 L1.2,-6.1" fill="none" stroke="#444" stroke-width="0.5"/></g>
<text x="341.80" y="557.20" font-size="5.4" text-anchor="middle" dominant-baseline="central" font-weight="bold" font-style="normal" fill="#111" stroke="#111" stroke-width="0.2">5</text>
<circle cx="381.00" cy="537.60" r="15.10" stroke="#111" stroke-width="1.5" fill="none"/>
<g transform="translate(381.00,537.60)"><g clip-path="url(#pclip)"><circle r="10.6" fill="#333"/><circle r="9.6" fill="none" stroke="#aaa" stroke-width="0.45"/><circle r="8.8" fill="none" stroke="#999" stroke-width="0.45"/><circle r="8.0" fill="none" stroke="#999" stroke-width="0.45"/></g><line x1="-9.7" y1="-4.5" x2="-9.7" y2="4.5" stroke="#111" stroke-width="0.8"/><line x1="9.7" y1="-4.5" x2="9.7" y2="4.5" stroke="#111" stroke-width="0.8"/><circle r="7.2" fill="#fff" stroke="#222" stroke-width="0.9"/><circle r="6.1" fill="none" stroke="#aaa" stroke-width="0.5"/><circle cx="-2.1" cy="-1.6" r="0.95" fill="#777" stroke="#333" stroke-width="0.4"/><circle cx="2.1" cy="-1.6" r="0.95" fill="#777" stroke="#333" stroke-width="0.4"/><circle cx="-2.1" cy="2.6" r="0.95" fill="#777" stroke="#333" stroke-width="0.4"/><circle cx="2.1" cy="2.6" r="0.95" fill="#777" stroke="#333" stroke-width="0.4"/><path d="M-1.2,-6.1 L-1.2,-4.4 L1.2,-4.4 L1.2,-6.1" fill="none" stroke="#444" stroke-width="0.5"/></g>
<text x="381.00" y="557.20" font-size="5.4" text-anchor="middle" dominant-baseline="central" font-weight="bold" font-style="normal" fill="#111" stroke="#111" stroke-width="0.2">9</text>
<circle cx="420.20" cy="537.60" r="15.10" stroke="#111" stroke-width="1.5" fill="none"/>
<g transform="translate(420.20,537.60)"><g clip-path="url(#pclip)"><circle r="10.6" fill="#333"/><circle r="9.6" fill="none" stroke="#aaa" stroke-width="0.45"/><circle r="8.8" fill="none" stroke="#999" stroke-width="0.45"/><circle r="8.0" fill="none" stroke="#999" stroke-width="0.45"/></g><line x1="-9.7" y1="-4.5" x2="-9.7" y2="4.5" stroke="#111" stroke-width="0.8"/><line x1="9.7" y1="-4.5" x2="9.7" y2="4.5" stroke="#111" stroke-width="0.8"/><circle r="7.2" fill="#fff" stroke="#222" stroke-width="0.9"/><circle r="6.1" fill="none" stroke="#aaa" stroke-width="0.5"/><circle cx="-2.1" cy="-1.6" r="0.95" fill="#777" stroke="#333" stroke-width="0.4"/><circle cx="2.1" cy="-1.6" r="0.95" fill="#777" stroke="#333" stroke-width="0.4"/><circle cx="-2.1" cy="2.6" r="0.95" fill="#777" stroke="#333" stroke-width="0.4"/><circle cx="2.1" cy="2.6" r="0.95" fill="#777" stroke="#333" stroke-width="0.4"/><path d="M-1.2,-6.1 L-1.2,-4.4 L1.2,-4.4 L1.2,-6.1" fill="none" stroke="#444" stroke-width="0.5"/></g>
<text x="420.20" y="557.20" font-size="5.4" text-anchor="middle" dominant-baseline="central" font-weight="bold" font-style="normal" fill="#111" stroke="#111" stroke-width="0.2">13</text>
<circle cx="459.40" cy="537.60" r="15.10" stroke="#111" stroke-width="1.5" fill="none"/>
<g transform="translate(459.40,537.60)"><g clip-path="url(#pclip)"><circle r="10.6" fill="#333"/><circle r="9.6" fill="none" stroke="#aaa" stroke-width="0.45"/><circle r="8.8" fill="none" stroke="#999" stroke-width="0.45"/><circle r="8.0" fill="none" stroke="#999" stroke-width="0.45"/></g><line x1="-9.7" y1="-4.5" x2="-9.7" y2="4.5" stroke="#111" stroke-width="0.8"/><line x1="9.7" y1="-4.5" x2="9.7" y2="4.5" stroke="#111" stroke-width="0.8"/><circle r="7.2" fill="#fff" stroke="#222" stroke-width="0.9"/><circle r="6.1" fill="none" stroke="#aaa" stroke-width="0.5"/><circle cx="-2.1" cy="-1.6" r="0.95" fill="#777" stroke="#333" stroke-width="0.4"/><circle cx="2.1" cy="-1.6" r="0.95" fill="#777" stroke="#333" stroke-width="0.4"/><circle cx="-2.1" cy="2.6" r="0.95" fill="#777" stroke="#333" stroke-width="0.4"/><circle cx="2.1" cy="2.6" r="0.95" fill="#777" stroke="#333" stroke-width="0.4"/><path d="M-1.2,-6.1 L-1.2,-4.4 L1.2,-4.4 L1.2,-6.1" fill="none" stroke="#444" stroke-width="0.5"/></g>
<text x="459.40" y="557.20" font-size="5.4" text-anchor="middle" dominant-baseline="central" font-weight="bold" font-style="normal" fill="#111" stroke="#111" stroke-width="0.2">17</text>
<circle cx="498.60" cy="537.60" r="15.10" stroke="#111" stroke-width="1.5" fill="none"/>
<g transform="translate(498.60,537.60)"><g clip-path="url(#pclip)"><circle r="10.6" fill="#333"/><circle r="9.6" fill="none" stroke="#aaa" stroke-width="0.45"/><circle r="8.8" fill="none" stroke="#999" stroke-width="0.45"/><circle r="8.0" fill="none" stroke="#999" stroke-width="0.45"/></g><line x1="-9.7" y1="-4.5" x2="-9.7" y2="4.5" stroke="#111" stroke-width="0.8"/><line x1="9.7" y1="-4.5" x2="9.7" y2="4.5" stroke="#111" stroke-width="0.8"/><circle r="7.2" fill="#fff" stroke="#222" stroke-width="0.9"/><circle r="6.1" fill="none" stroke="#aaa" stroke-width="0.5"/><circle cx="-2.1" cy="-1.6" r="0.95" fill="#777" stroke="#333" stroke-width="0.4"/><circle cx="2.1" cy="-1.6" r="0.95" fill="#777" stroke="#333" stroke-width="0.4"/><circle cx="-2.1" cy="2.6" r="0.95" fill="#777" stroke="#333" stroke-width="0.4"/><circle cx="2.1" cy="2.6" r="0.95" fill="#777" stroke="#333" stroke-width="0.4"/><path d="M-1.2,-6.1 L-1.2,-4.4 L1.2,-4.4 L1.2,-6.1" fill="none" stroke="#444" stroke-width="0.5"/></g>
<text x="498.60" y="557.20" font-size="5.4" text-anchor="middle" dominant-baseline="central" font-weight="bold" font-style="normal" fill="#111" stroke="#111" stroke-width="0.2">21</text>
<circle cx="252.40" cy="387.90" r="15.20" stroke="#111" stroke-width="1.5" fill="none"/>
<g transform="translate(252.40,387.90)"><g clip-path="url(#pclip)"><circle r="10.8" fill="#3a3a3a"/><circle r="10.0" fill="none" stroke="#888" stroke-width="0.45"/><circle r="9.1" fill="none" stroke="#888" stroke-width="0.45"/></g><line x1="-9.7" y1="-4.5" x2="-9.7" y2="4.5" stroke="#111" stroke-width="0.8"/><line x1="9.7" y1="-4.5" x2="9.7" y2="4.5" stroke="#111" stroke-width="0.8"/><circle r="8.2" fill="#666" stroke="#222" stroke-width="0.6"/><circle r="7.2" fill="#bdbdbd" stroke="#555" stroke-width="0.5"/></g>
<circle cx="252.40" cy="387.90" r="1.25" stroke="#555" stroke-width="0.5" fill="#eee"/>
<circle cx="252.40" cy="383.60" r="1.25" stroke="#555" stroke-width="0.5" fill="#eee"/>
<circle cx="252.40" cy="392.20" r="1.25" stroke="#555" stroke-width="0.5" fill="#eee"/>
<circle cx="248.70" cy="385.70" r="1.25" stroke="#555" stroke-width="0.5" fill="#eee"/>
<circle cx="256.10" cy="385.70" r="1.25" stroke="#555" stroke-width="0.5" fill="#eee"/>
<circle cx="248.70" cy="390.10" r="1.25" stroke="#555" stroke-width="0.5" fill="#eee"/>
<circle cx="256.10" cy="390.10" r="1.25" stroke="#555" stroke-width="0.5" fill="#eee"/>
<text x="276.10" y="388.30" font-size="5.6" text-anchor="middle" dominant-baseline="central" font-weight="bold" font-style="normal" fill="#111" stroke="#111" stroke-width="0.25" textLength="11.6" lengthAdjust="spacingAndGlyphs">Alarm</text>
<circle cx="251.90" cy="487.60" r="14.90" stroke="#111" stroke-width="1.5" fill="none"/>
<g transform="translate(251.90,487.60)"><g clip-path="url(#pclip)"><circle r="10.8" fill="#3a3a3a"/><circle r="10.0" fill="none" stroke="#888" stroke-width="0.45"/><circle r="9.1" fill="none" stroke="#888" stroke-width="0.45"/></g><line x1="-9.7" y1="-4.5" x2="-9.7" y2="4.5" stroke="#111" stroke-width="0.8"/><line x1="9.7" y1="-4.5" x2="9.7" y2="4.5" stroke="#111" stroke-width="0.8"/><circle r="8.2" fill="#666" stroke="#222" stroke-width="0.6"/><circle r="7.2" fill="#bdbdbd" stroke="#555" stroke-width="0.5"/></g>
<circle cx="251.90" cy="487.60" r="1.25" stroke="#555" stroke-width="0.5" fill="#eee"/>
<circle cx="251.90" cy="483.30" r="1.25" stroke="#555" stroke-width="0.5" fill="#eee"/>
<circle cx="251.90" cy="491.90" r="1.25" stroke="#555" stroke-width="0.5" fill="#eee"/>
<circle cx="248.20" cy="485.40" r="1.25" stroke="#555" stroke-width="0.5" fill="#eee"/>
<circle cx="255.60" cy="485.40" r="1.25" stroke="#555" stroke-width="0.5" fill="#eee"/>
<circle cx="248.20" cy="489.80" r="1.25" stroke="#555" stroke-width="0.5" fill="#eee"/>
<circle cx="255.60" cy="489.80" r="1.25" stroke="#555" stroke-width="0.5" fill="#eee"/>
<text x="274.40" y="488.10" font-size="5.6" text-anchor="middle" dominant-baseline="central" font-weight="bold" font-style="normal" fill="#111" stroke="#111" stroke-width="0.25" textLength="9.4" lengthAdjust="spacingAndGlyphs">CON</text>
<circle cx="271.00" cy="471.40" r="3.90" stroke="#111" stroke-width="0.9" fill="#666"/>
<circle cx="271.00" cy="471.40" r="2.60" stroke="#222" stroke-width="0.6" fill="#aaa"/>
<circle cx="274.20" cy="471.40" r="0.35" stroke="#fff" stroke-width="0" fill="#ccc"/>
<circle cx="273.26" cy="473.66" r="0.35" stroke="#fff" stroke-width="0" fill="#ccc"/>
<circle cx="271.00" cy="474.60" r="0.35" stroke="#fff" stroke-width="0" fill="#ccc"/>
<circle cx="268.74" cy="473.66" r="0.35" stroke="#fff" stroke-width="0" fill="#ccc"/>
<circle cx="267.80" cy="471.40" r="0.35" stroke="#fff" stroke-width="0" fill="#ccc"/>
<circle cx="268.74" cy="469.14" r="0.35" stroke="#fff" stroke-width="0" fill="#ccc"/>
<circle cx="271.00" cy="468.20" r="0.35" stroke="#fff" stroke-width="0" fill="#ccc"/>
<circle cx="273.26" cy="469.14" r="0.35" stroke="#fff" stroke-width="0" fill="#ccc"/>
<text x="271.00" y="464.80" font-size="2.2" text-anchor="middle" dominant-baseline="central" font-weight="normal" font-style="normal" fill="#777">NC</text>
<text x="271.00" y="478.00" font-size="2.2" text-anchor="middle" dominant-baseline="central" font-weight="normal" font-style="normal" fill="#777">NC</text>
<text x="263.80" y="471.40" font-size="2.2" text-anchor="middle" dominant-baseline="central" font-weight="normal" font-style="normal" fill="#777">TX</text>
<text x="278.20" y="471.40" font-size="2.2" text-anchor="middle" dominant-baseline="central" font-weight="normal" font-style="normal" fill="#777">RX</text>
<circle cx="226.40" cy="489.60" r="4.10" stroke="#111" stroke-width="1.0" fill="none"/>
<circle cx="229.43" cy="491.35" r="0.80" stroke="#111" stroke-width="0" fill="#111"/>
<circle cx="226.40" cy="493.10" r="0.80" stroke="#111" stroke-width="0" fill="#111"/>
<circle cx="223.37" cy="491.35" r="0.80" stroke="#111" stroke-width="0" fill="#111"/>
<circle cx="223.37" cy="487.85" r="0.80" stroke="#111" stroke-width="0" fill="#111"/>
<circle cx="226.40" cy="486.10" r="0.80" stroke="#111" stroke-width="0" fill="#111"/>
<circle cx="229.43" cy="487.85" r="0.80" stroke="#111" stroke-width="0" fill="#111"/>
<text x="218.80" y="486.80" font-size="2.0" text-anchor="middle" dominant-baseline="central" font-weight="normal" font-style="normal" fill="#777">TXD</text>
<text x="234.00" y="486.80" font-size="2.0" text-anchor="middle" dominant-baseline="central" font-weight="normal" font-style="normal" fill="#777">RXD</text>
<text x="218.80" y="493.00" font-size="2.0" text-anchor="middle" dominant-baseline="central" font-weight="normal" font-style="normal" fill="#777">GND</text>
<text x="234.00" y="493.00" font-size="2.0" text-anchor="middle" dominant-baseline="central" font-weight="normal" font-style="normal" fill="#777">NC</text>
<text x="226.40" y="496.80" font-size="2.0" text-anchor="middle" dominant-baseline="central" font-weight="normal" font-style="normal" fill="#777">GND</text>
<path d="M742.7,566 L742.7,308.6 Q742.7,307 744,305.6 L746,303.5 Q747.2,302.4 749,302.4 L834,302.4 Q835.6,302.4 835.8,304" stroke="#333" stroke-width="0.8" fill="none"/>
<path d="M742.7,566 Q742.7,567.5 744,568.8 L746.5,571.5 Q747.6,572.7 749.3,572.7 L834,572.7 Q835.6,572.7 835.8,571" stroke="#333" stroke-width="0.8" fill="none"/>
<line x1="748.50" y1="305.10" x2="748.50" y2="567.00" stroke="#222" stroke-width="1.1"/>
<path d="M748.5,305.1 L845.4,305.1 Q847.4,305.1 847.4,307.1 L847.4,565 Q847.4,569.7 845.4,569.7 L748.5,569.7" stroke="#222" stroke-width="0.9" fill="none"/>
<line x1="848.90" y1="307.00" x2="848.90" y2="567.00" stroke="#666" stroke-width="0.6"/>
<line x1="748.50" y1="310.10" x2="847.40" y2="310.10" stroke="#777" stroke-width="1.2"/>
<line x1="748.50" y1="565.00" x2="847.40" y2="565.00" stroke="#555" stroke-width="1.0"/>
<rect x="751.90" y="302.60" width="24.50" height="2.40" rx="0" stroke="#333" stroke-width="0" fill="#cfcfcf"/>
<rect x="795.40" y="302.60" width="40.00" height="2.40" rx="0" stroke="#333" stroke-width="0" fill="#cfcfcf"/>
<rect x="751.90" y="569.90" width="24.50" height="2.60" rx="0" stroke="#333" stroke-width="0" fill="#cfcfcf"/>
<rect x="795.40" y="569.90" width="40.00" height="2.60" rx="0" stroke="#333" stroke-width="0" fill="#cfcfcf"/>
<rect x="748.50" y="305.10" width="3.40" height="5.00" rx="0" stroke="#333" stroke-width="0.6" fill="none"/>
<rect x="748.50" y="565.00" width="3.40" height="4.70" rx="0" stroke="#333" stroke-width="0.6" fill="none"/>
<line x1="742.70" y1="314.40" x2="748.50" y2="314.40" stroke="#555" stroke-width="0.6"/>
<line x1="742.70" y1="317.80" x2="748.50" y2="317.80" stroke="#555" stroke-width="0.6"/>
<line x1="742.70" y1="323.60" x2="748.50" y2="323.60" stroke="#555" stroke-width="0.6"/>
<line x1="742.70" y1="324.60" x2="748.50" y2="324.60" stroke="#555" stroke-width="0.6"/>
<line x1="742.70" y1="333.80" x2="748.50" y2="333.80" stroke="#555" stroke-width="0.6"/>
<line x1="742.70" y1="334.80" x2="748.50" y2="334.80" stroke="#555" stroke-width="0.6"/>
<line x1="742.70" y1="378.50" x2="748.50" y2="378.50" stroke="#555" stroke-width="0.6"/>
<line x1="742.70" y1="379.50" x2="748.50" y2="379.50" stroke="#555" stroke-width="0.6"/>
<line x1="742.70" y1="394.00" x2="748.50" y2="394.00" stroke="#555" stroke-width="0.6"/>
<line x1="742.70" y1="395.00" x2="748.50" y2="395.00" stroke="#555" stroke-width="0.6"/>
<line x1="742.70" y1="460.00" x2="748.50" y2="460.00" stroke="#555" stroke-width="0.6"/>
<line x1="742.70" y1="461.00" x2="748.50" y2="461.00" stroke="#555" stroke-width="0.6"/>
<line x1="742.70" y1="476.50" x2="748.50" y2="476.50" stroke="#555" stroke-width="0.6"/>
<line x1="742.70" y1="477.50" x2="748.50" y2="477.50" stroke="#555" stroke-width="0.6"/>
<line x1="742.70" y1="540.00" x2="748.50" y2="540.00" stroke="#555" stroke-width="0.6"/>
<line x1="742.70" y1="541.00" x2="748.50" y2="541.00" stroke="#555" stroke-width="0.6"/>
<line x1="742.70" y1="550.60" x2="748.50" y2="550.60" stroke="#555" stroke-width="0.6"/>
<line x1="742.70" y1="551.60" x2="748.50" y2="551.60" stroke="#555" stroke-width="0.6"/>
<line x1="742.70" y1="556.80" x2="748.50" y2="556.80" stroke="#555" stroke-width="0.6"/>
<line x1="742.70" y1="561.00" x2="748.50" y2="561.00" stroke="#555" stroke-width="0.6"/>
<rect x="776.40" y="302.40" width="7.60" height="7.70" rx="0" stroke="#333" stroke-width="0.7" fill="none"/>
<line x1="784.00" y1="302.40" x2="784.00" y2="310.10" stroke="#222" stroke-width="1.2"/>
<rect x="784.00" y="302.40" width="11.40" height="7.70" rx="0" stroke="#333" stroke-width="0.7" fill="none"/>
<rect x="776.40" y="565.00" width="7.60" height="7.70" rx="0" stroke="#333" stroke-width="0.7" fill="none"/>
<line x1="784.00" y1="565.00" x2="784.00" y2="572.70" stroke="#222" stroke-width="1.2"/>
<rect x="784.00" y="565.00" width="11.40" height="7.70" rx="0" stroke="#333" stroke-width="0.7" fill="none"/>
<path d="M748.5,310.3 L833.8,315.2 Q835.8,315.3 835.8,317 Q835.8,319 833.8,319.1 L774.8,321.7 Q771.8,321.8 771.8,324.7 L771.8,379.4 Q771.8,382.3 774.8,382.4 L833.8,385.6 Q835.8,385.7 835.8,387.4 Q835.8,389.4 833.8,389.5 L781,391.3 Q778,391.6 778,394.8 Q778,398.2 781,398.4 L833.8,400.7 Q835.8,400.8 835.8,402.6 Q835.8,405 833.8,405.1 L774.8,407.3 Q771.8,407.4 771.8,410.3 L771.8,465 Q771.8,467.9 774.8,468 L833.8,470.8 Q835.8,470.9 835.8,472.6 Q835.8,474.6 833.8,474.7 L781,476.5 Q778,476.8 778,480 Q778,483.4 781,483.6 L833.8,485.9 Q835.8,486 835.8,487.8 Q835.8,489 833.8,489.1 L774.8,491 Q771.8,491.1 771.8,494 L771.8,551 Q771.8,553.9 774.8,554 L833.8,555.4 Q835.8,555.5 835.8,557.2 Q835.8,560.4 833.8,560.5 L749,564.3" stroke="#333" stroke-width="0.8" fill="none"/>
<line x1="785.60" y1="321.00" x2="785.60" y2="383.10" stroke="#333" stroke-width="0.8"/>
<line x1="785.60" y1="406.80" x2="785.60" y2="468.60" stroke="#333" stroke-width="0.8"/>
<line x1="785.60" y1="490.60" x2="785.60" y2="554.30" stroke="#333" stroke-width="0.8"/>
<line x1="801.60" y1="320.40" x2="801.60" y2="384.00" stroke="#333" stroke-width="0.8"/>
<line x1="801.60" y1="406.30" x2="801.60" y2="469.30" stroke="#333" stroke-width="0.8"/>
<line x1="801.60" y1="490.10" x2="801.60" y2="554.70" stroke="#333" stroke-width="0.8"/>
<line x1="817.10" y1="319.80" x2="817.10" y2="384.80" stroke="#333" stroke-width="0.8"/>
<line x1="817.10" y1="405.70" x2="817.10" y2="470.00" stroke="#333" stroke-width="0.8"/>
<line x1="817.10" y1="489.60" x2="817.10" y2="555.00" stroke="#333" stroke-width="0.8"/>
<line x1="828.20" y1="389.40" x2="828.20" y2="399.80" stroke="#333" stroke-width="0.8"/>
<line x1="828.20" y1="474.60" x2="828.20" y2="485.00" stroke="#333" stroke-width="0.8"/>
<path d="M848.8,378.09999999999997 L857.2,378.09999999999997 Q858.6,378.09999999999997 858.6,379.5 L858.6,397.0 Q858.6,398.4 857.2,398.4 L848.8,398.4" stroke="#333" stroke-width="0.8" fill="none"/>
<line x1="849.60" y1="378.10" x2="849.60" y2="398.40" stroke="#333" stroke-width="1.0"/>
<rect x="858.60" y="381.80" width="2.00" height="12.90" rx="0" stroke="#333" stroke-width="0.6" fill="none"/>
<line x1="858.60" y1="392.70" x2="860.60" y2="392.70" stroke="#555" stroke-width="0.5"/>
<path d="M848.8,427.79999999999995 L857.2,427.79999999999995 Q858.6,427.79999999999995 858.6,429.2 L858.6,446.7 Q858.6,448.09999999999997 857.2,448.09999999999997 L848.8,448.09999999999997" stroke="#333" stroke-width="0.8" fill="none"/>
<line x1="849.60" y1="427.80" x2="849.60" y2="448.10" stroke="#333" stroke-width="1.0"/>
<rect x="858.60" y="431.50" width="2.00" height="12.90" rx="0" stroke="#333" stroke-width="0.6" fill="none"/>
<line x1="858.60" y1="442.40" x2="860.60" y2="442.40" stroke="#555" stroke-width="0.5"/>
<path d="M848.8,477.5 L857.2,477.5 Q858.6,477.5 858.6,478.90000000000003 L858.6,496.40000000000003 Q858.6,497.8 857.2,497.8 L848.8,497.8" stroke="#333" stroke-width="0.8" fill="none"/>
<line x1="849.60" y1="477.50" x2="849.60" y2="497.80" stroke="#333" stroke-width="1.0"/>
<rect x="858.60" y="481.20" width="2.00" height="12.90" rx="0" stroke="#333" stroke-width="0.6" fill="none"/>
<line x1="858.60" y1="492.10" x2="860.60" y2="492.10" stroke="#555" stroke-width="0.5"/>
<rect x="848.30" y="514.50" width="26.60" height="32.50" rx="0" stroke="#222" stroke-width="0.9" fill="none"/>
<rect x="853.30" y="514.50" width="4.50" height="32.50" rx="0" stroke="#333" stroke-width="0.8" fill="#bbb"/>
<line x1="855.50" y1="515.00" x2="855.50" y2="546.50" stroke="#666" stroke-width="0.5"/>
<rect x="864.90" y="514.30" width="7.30" height="32.90" rx="0" stroke="#333" stroke-width="0" fill="#111"/>
<line x1="864.90" y1="517.00" x2="872.20" y2="517.00" stroke="#555" stroke-width="0.35"/>
<line x1="864.90" y1="520.00" x2="872.20" y2="520.00" stroke="#555" stroke-width="0.35"/>
<line x1="864.90" y1="523.00" x2="872.20" y2="523.00" stroke="#555" stroke-width="0.35"/>
<line x1="864.90" y1="526.00" x2="872.20" y2="526.00" stroke="#555" stroke-width="0.35"/>
<line x1="864.90" y1="529.00" x2="872.20" y2="529.00" stroke="#555" stroke-width="0.35"/>
<line x1="864.90" y1="532.00" x2="872.20" y2="532.00" stroke="#555" stroke-width="0.35"/>
<line x1="864.90" y1="535.00" x2="872.20" y2="535.00" stroke="#555" stroke-width="0.35"/>
<line x1="864.90" y1="538.00" x2="872.20" y2="538.00" stroke="#555" stroke-width="0.35"/>
<line x1="864.90" y1="541.00" x2="872.20" y2="541.00" stroke="#555" stroke-width="0.35"/>
<line x1="864.90" y1="544.00" x2="872.20" y2="544.00" stroke="#555" stroke-width="0.35"/>
<path d="M848.3,555.3 L851.5,555.3 Q853.5,555.5 854,557.5 L855.6,559.5 L855.6,567.5 Q855.4,570.1 852,570.1 L848.3,570.1" stroke="#333" stroke-width="0.8" fill="none"/>
<rect x="851.80" y="558.50" width="3.20" height="9.00" rx="0" stroke="#555" stroke-width="0.5" fill="#bbb"/>
</svg></body></html>
